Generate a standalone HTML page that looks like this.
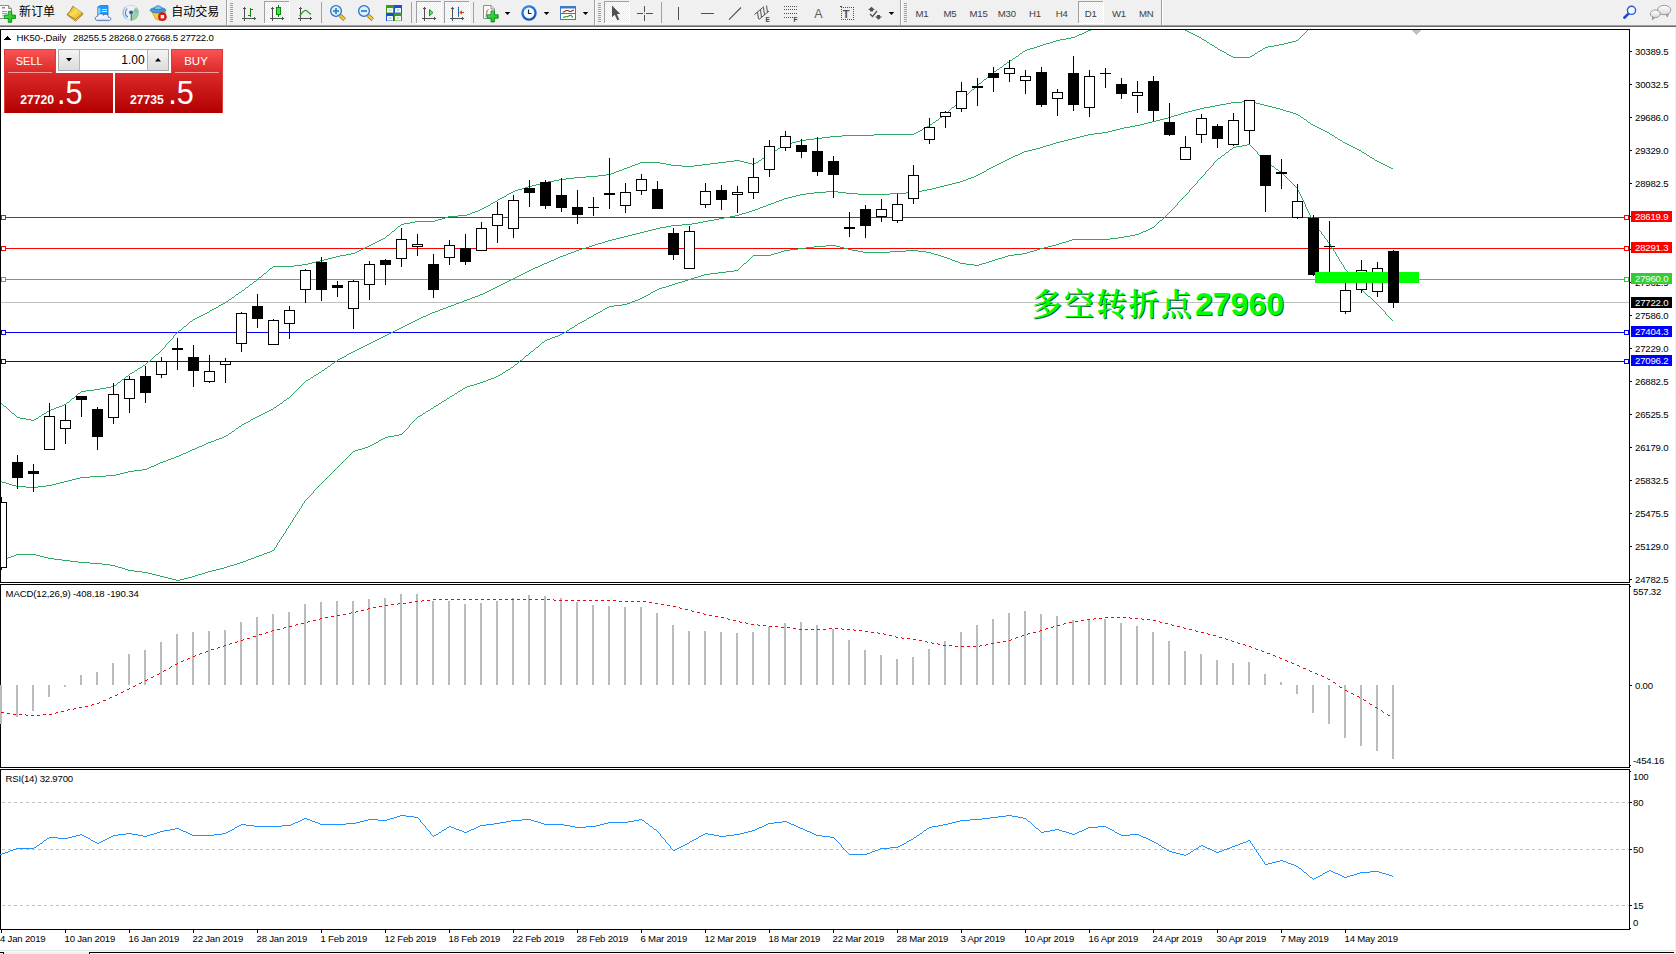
<!DOCTYPE html>
<html><head><meta charset="utf-8"><title>HK50-,Daily</title>
<style>html,body{margin:0;padding:0;background:#fff;}body{width:1676px;height:954px;overflow:hidden;position:relative;font-family:"Liberation Sans",sans-serif}svg text{shape-rendering:auto}</style></head>
<body>
<svg width="1676" height="954" viewBox="0 0 1676 954" shape-rendering="crispEdges" font-family='"Liberation Sans", sans-serif' style="position:absolute;left:0;top:0">
<defs>
<clipPath id="cm"><rect x="1" y="30" width="1628" height="552"/></clipPath>
<linearGradient id="gr" x1="0" y1="0" x2="0" y2="1"><stop offset="0" stop-color="#fa5252"/><stop offset="0.45" stop-color="#d62424"/><stop offset="1" stop-color="#b40000"/></linearGradient>
<linearGradient id="gbtn" x1="0" y1="0" x2="0" y2="1"><stop offset="0" stop-color="#f4f4f4"/><stop offset="1" stop-color="#dcdcdc"/></linearGradient>
</defs>
<rect x="0" y="0" width="1676" height="954" fill="#fff" />
<rect x="0" y="0" width="1676" height="25" fill="#f0f0f0" />
<rect x="0" y="25" width="1676" height="1" fill="#a0a0a0" />
<rect x="0" y="26" width="1676" height="1" fill="#696969" />
<rect x="1675" y="27" width="1" height="927" fill="#f0f0f0" />
<rect x="0" y="29" width="1630" height="1" fill="#000" />
<rect x="0" y="582" width="1630" height="1" fill="#000" />
<rect x="0" y="29" width="1" height="554" fill="#000" />
<rect x="1629" y="29" width="1" height="554" fill="#000" />
<rect x="0" y="584" width="1630" height="1" fill="#000" />
<rect x="0" y="767" width="1630" height="1" fill="#000" />
<rect x="0" y="584" width="1" height="184" fill="#000" />
<rect x="1629" y="584" width="1" height="184" fill="#000" />
<rect x="0" y="769" width="1630" height="1" fill="#000" />
<rect x="0" y="929" width="1630" height="1" fill="#000" />
<rect x="0" y="769" width="1" height="161" fill="#000" />
<rect x="1629" y="769" width="1" height="161" fill="#000" />
<g clip-path="url(#cm)">
<rect x="1" y="302" width="1628" height="1" fill="#c0c0c0" />
<rect x="6" y="217" width="1618" height="1" fill="#ff0000" />
<rect x="1.5" y="215.5" width="4" height="4" fill="#fff" stroke="#ff0000" stroke-width="1"/>
<rect x="1624.5" y="215.5" width="4" height="4" fill="#fff" stroke="#ff0000" stroke-width="1"/>
<rect x="6" y="248" width="1618" height="1" fill="#ff0000" />
<rect x="1.5" y="246.5" width="4" height="4" fill="#fff" stroke="#ff0000" stroke-width="1"/>
<rect x="1624.5" y="246.5" width="4" height="4" fill="#fff" stroke="#ff0000" stroke-width="1"/>
<rect x="6" y="279" width="1618" height="1" fill="#32cd32" />
<rect x="1.5" y="277.5" width="4" height="4" fill="#fff" stroke="#32cd32" stroke-width="1"/>
<rect x="1624.5" y="277.5" width="4" height="4" fill="#fff" stroke="#32cd32" stroke-width="1"/>
<rect x="6" y="332" width="1618" height="1" fill="#0000ff" />
<rect x="1.5" y="330.5" width="4" height="4" fill="#fff" stroke="#0000ff" stroke-width="1"/>
<rect x="1624.5" y="330.5" width="4" height="4" fill="#fff" stroke="#0000ff" stroke-width="1"/>
<rect x="6" y="361" width="1618" height="1" fill="#0000ff" />
<rect x="1.5" y="359.5" width="4" height="4" fill="#fff" stroke="#0000ff" stroke-width="1"/>
<rect x="1624.5" y="359.5" width="4" height="4" fill="#fff" stroke="#0000ff" stroke-width="1"/>
<path d="M1146 15.5h10M1135 16.5h11M1156 16.5h4M1130 17.5h5M1160 17.5h4M1124 18.5h6M1164 18.5h4M1120 19.5h4M1168 19.5h2M1118 20.5h2M1170 20.5h2M1115 21.5h3M1112 22.5h3M1173 22.5h2M1110 23.5h2M1107 24.5h3M1176 24.5h2M1104 25.5h3M1101 26.5h3M1098 27.5h3M1180 27.5h2M1094 28.5h4M1091 29.5h3M1183 29.5h2M1088 30.5h3M1185 30.5h2M1086 31.5h2M1187 31.5h2M1084 32.5h2M1189 32.5h2M1082 33.5h2M1191 33.5h2M1079 34.5h3M1193 34.5h2M1077 35.5h2M1195 35.5h2M1075 36.5h2M1197 36.5h2M1071 37.5h4M1199 37.5h2M1066 38.5h5M1060 39.5h6M1202 39.5h2M1056 40.5h4M1204 40.5h2M1296 40.5h2M1053 41.5h3M1292 41.5h4M1050 42.5h3M1207 42.5h2M1288 42.5h4M1046 43.5h4M1284 43.5h4M1043 44.5h3M1210 44.5h2M1279 44.5h5M1040 45.5h3M1212 45.5h2M1274 45.5h5M1037 46.5h3M1268 46.5h6M1034 47.5h3M1215 47.5h2M1265 47.5h3M1030 48.5h4M1263 48.5h2M1027 49.5h3M1218 49.5h2M1025 50.5h2M1220 50.5h2M1260 50.5h2M1023 51.5h2M1222 51.5h2M1258 51.5h2M1224 52.5h2M1020 53.5h2M1255 53.5h2M1227 54.5h2M1229 55.5h2M1252 55.5h2M1016 56.5h2M1231 56.5h2M1250 56.5h2M1233 57.5h17M1013 58.5h2M1010 60.5h2M1007 62.5h2M1004 64.5h2M1000 67.5h2M997 69.5h2M994 71.5h2M990 74.5h2M984 79.5h2M979 83.5h2M972 89.5h2M964 96.5h2M952 107.5h2M943 115.5h2M940 117.5h2M936 120.5h2M933 122.5h2M930 124.5h2M927 126.5h2M925 127.5h2M923 128.5h2M920 130.5h2M918 131.5h2M916 132.5h2M914 133.5h2M874 134.5h40M842 135.5h32M830 136.5h12M822 137.5h8M814 138.5h8M806 139.5h8M800 140.5h6M796 141.5h4M792 142.5h4M788 143.5h4M785 144.5h3M783 145.5h2M780 147.5h2M778 148.5h2M775 150.5h2M772 152.5h2M770 153.5h2M767 155.5h2M764 157.5h2M762 158.5h2M734 160.5h6M759 160.5h2M726 161.5h8M740 161.5h4M640 162.5h20M718 162.5h8M744 162.5h4M756 162.5h2M638 163.5h2M660 163.5h6M710 163.5h8M748 163.5h4M754 163.5h2M635 164.5h3M666 164.5h5M702 164.5h8M752 164.5h2M632 165.5h3M671 165.5h11M694 165.5h8M630 166.5h2M682 166.5h12M627 167.5h3M624 168.5h3M622 169.5h2M619 170.5h3M616 171.5h3M614 172.5h2M611 173.5h3M606 174.5h5M598 175.5h8M586 176.5h12M574 177.5h12M566 178.5h8M559 179.5h7M554 180.5h5M548 181.5h6M544 182.5h4M540 183.5h4M536 184.5h4M532 185.5h4M528 186.5h4M525 187.5h3M522 188.5h3M518 189.5h4M515 190.5h3M513 191.5h2M511 192.5h2M509 193.5h2M507 194.5h2M504 196.5h2M502 197.5h2M500 198.5h2M498 199.5h2M495 201.5h2M493 202.5h2M491 203.5h2M488 205.5h2M486 206.5h2M484 207.5h2M482 208.5h2M480 209.5h2M478 210.5h2M475 211.5h3M472 212.5h3M470 213.5h2M467 214.5h3M458 215.5h9M448 216.5h10M445 217.5h3M442 218.5h3M438 219.5h4M435 220.5h3M415 221.5h20M410 222.5h5M404 223.5h6M401 224.5h3M398 226.5h2M392 231.5h2M387 235.5h2M383 238.5h2M381 239.5h2M379 240.5h2M377 241.5h2M375 242.5h2M373 243.5h2M371 244.5h2M369 245.5h2M367 246.5h2M365 247.5h2M363 248.5h2M361 249.5h2M359 250.5h2M357 251.5h2M355 252.5h2M351 253.5h4M346 254.5h5M340 255.5h6M336 256.5h4M332 257.5h4M328 258.5h4M324 259.5h4M320 260.5h4M316 261.5h4M312 262.5h4M308 263.5h4M302 264.5h6M294 265.5h8M273 266.5h21M270 268.5h2M264 273.5h2M259 277.5h2M254 281.5h2M250 284.5h2M246 287.5h2M242 290.5h2M239 292.5h2M236 294.5h2M232 297.5h2M229 299.5h2M226 301.5h2M223 303.5h2M221 304.5h2M219 305.5h2M216 307.5h2M214 308.5h2M212 309.5h2M210 310.5h2M207 312.5h2M205 313.5h2M203 314.5h2M201 315.5h2M199 316.5h2M197 317.5h2M195 318.5h2M193 319.5h2M190 321.5h2M184 326.5h2M179 330.5h2M156 354.5h2M148 361.5h2M143 365.5h2M140 367.5h2M138 368.5h2M135 370.5h2M132 372.5h2M130 373.5h2M126 376.5h2M122 379.5h2M118 382.5h2M114 385.5h2M111 386.5h3M106 387.5h5M100 388.5h6M94 389.5h6M86 390.5h8M81 391.5h5M78 393.5h2M72 398.5h2M67 402.5h2M64 404.5h2M62 405.5h2M4 406.5h2M59 406.5h3M56 407.5h3M54 408.5h2M51 409.5h3M49 410.5h2M47 411.5h2M12 413.5h2M44 413.5h2M42 414.5h2M39 416.5h2M17 417.5h3M20 418.5h6M36 418.5h2M26 419.5h5M34 419.5h2M31 420.5h3M0.5 402v1M1.5 403v1M2.5 404v1M3.5 405v1M6.5 407v1M7.5 408v1M8.5 409v1M9.5 410v1M10.5 411v1M11.5 412v1M14.5 414v1M15.5 415v1M16.5 416v1M38.5 417v1M41.5 415v1M46.5 412v1M66.5 403v1M69.5 401v1M70.5 400v1M71.5 399v1M74.5 397v1M75.5 396v1M76.5 395v1M77.5 394v1M80.5 392v1M116.5 384v1M117.5 383v1M120.5 381v1M121.5 380v1M124.5 378v1M125.5 377v1M128.5 375v1M129.5 374v1M134.5 371v1M137.5 369v1M142.5 366v1M145.5 364v1M146.5 363v1M147.5 362v1M150.5 360v1M151.5 359v1M152.5 358v1M153.5 357v1M154.5 356v1M155.5 355v1M158.5 353v1M159.5 352v1M160.5 351v1M161.5 350v1M162.5 349v1M163.5 348v1M164.5 347v1M165.5 345v2M166.5 344v1M167.5 343v1M168.5 342v1M169.5 341v1M170.5 340v1M171.5 339v1M172.5 338v1M173.5 336v2M174.5 335v1M175.5 334v1M176.5 333v1M177.5 332v1M178.5 331v1M181.5 329v1M182.5 328v1M183.5 327v1M186.5 325v1M187.5 324v1M188.5 323v1M189.5 322v1M192.5 320v1M209.5 311v1M218.5 306v1M225.5 302v1M228.5 300v1M231.5 298v1M234.5 296v1M235.5 295v1M238.5 293v1M241.5 291v1M244.5 289v1M245.5 288v1M248.5 286v1M249.5 285v1M252.5 283v1M253.5 282v1M256.5 280v1M257.5 279v1M258.5 278v1M261.5 276v1M262.5 275v1M263.5 274v1M266.5 272v1M267.5 271v1M268.5 270v1M269.5 269v1M272.5 267v1M385.5 237v1M386.5 236v1M389.5 234v1M390.5 233v1M391.5 232v1M394.5 230v1M395.5 229v1M396.5 228v1M397.5 227v1M400.5 225v1M490.5 204v1M497.5 200v1M506.5 195v1M758.5 161v1M761.5 159v1M766.5 156v1M769.5 154v1M774.5 151v1M777.5 149v1M782.5 146v1M922.5 129v1M929.5 125v1M932.5 123v1M935.5 121v1M938.5 119v1M939.5 118v1M942.5 116v1M945.5 114v1M946.5 113v1M947.5 112v1M948.5 111v1M949.5 110v1M950.5 109v1M951.5 108v1M954.5 106v1M955.5 105v1M956.5 104v1M957.5 103v1M958.5 102v1M959.5 101v1M960.5 100v1M961.5 99v1M962.5 98v1M963.5 97v1M966.5 95v1M967.5 94v1M968.5 93v1M969.5 92v1M970.5 91v1M971.5 90v1M974.5 88v1M975.5 87v1M976.5 86v1M977.5 85v1M978.5 84v1M981.5 82v1M982.5 81v1M983.5 80v1M986.5 78v1M987.5 77v1M988.5 76v1M989.5 75v1M992.5 73v1M993.5 72v1M996.5 70v1M999.5 68v1M1002.5 66v1M1003.5 65v1M1006.5 63v1M1009.5 61v1M1012.5 59v1M1015.5 57v1M1018.5 55v1M1019.5 54v1M1022.5 52v1M1172.5 21v1M1175.5 23v1M1178.5 25v1M1179.5 26v1M1182.5 28v1M1201.5 38v1M1206.5 41v1M1209.5 43v1M1214.5 46v1M1217.5 48v1M1226.5 53v1M1254.5 54v1M1257.5 52v1M1262.5 49v1M1298.5 39v1M1299.5 38v1M1300.5 37v1M1301.5 36v1M1302.5 35v1M1303.5 34v1M1304.5 33v1M1305.5 32v1M1306.5 31v1M1307.5 30v1M1308.5 29v1M1309.5 28v1M1310.5 27v1M1311.5 26v1M1312.5 25v1" fill="none" stroke="#2eaa64" stroke-width="1" />
<path d="M1242 101.5h10M1231 102.5h11M1252 102.5h4M1226 103.5h5M1256 103.5h4M1220 104.5h6M1260 104.5h4M1215 105.5h5M1264 105.5h4M1210 106.5h5M1268 106.5h4M1204 107.5h6M1272 107.5h4M1200 108.5h4M1276 108.5h4M1196 109.5h4M1280 109.5h3M1192 110.5h4M1283 110.5h3M1188 111.5h4M1286 111.5h4M1184 112.5h4M1290 112.5h3M1181 113.5h3M1293 113.5h3M1178 114.5h3M1296 114.5h2M1174 115.5h4M1298 115.5h2M1171 116.5h3M1168 117.5h3M1301 117.5h2M1164 118.5h4M1160 119.5h4M1304 119.5h2M1156 120.5h4M1152 121.5h4M1148 122.5h4M1308 122.5h2M1144 123.5h4M1140 124.5h4M1311 124.5h2M1135 125.5h5M1313 125.5h2M1130 126.5h5M1315 126.5h2M1124 127.5h6M1317 127.5h2M1120 128.5h4M1319 128.5h2M1116 129.5h4M1321 129.5h2M1112 130.5h4M1323 130.5h2M1108 131.5h4M1325 131.5h2M1102 132.5h6M1327 132.5h2M1094 133.5h8M1088 134.5h6M1330 134.5h2M1084 135.5h4M1332 135.5h2M1080 136.5h4M1076 137.5h4M1335 137.5h2M1072 138.5h4M1068 139.5h4M1338 139.5h2M1064 140.5h4M1340 140.5h2M1060 141.5h4M1056 142.5h4M1343 142.5h2M1053 143.5h3M1345 143.5h2M1050 144.5h3M1347 144.5h2M1046 145.5h4M1349 145.5h2M1043 146.5h3M1351 146.5h2M1040 147.5h3M1353 147.5h2M1036 148.5h4M1355 148.5h2M1032 149.5h4M1357 149.5h2M1028 150.5h4M1359 150.5h2M1024 151.5h4M1022 152.5h2M1362 152.5h2M1020 153.5h2M1364 153.5h2M1018 154.5h2M1015 155.5h3M1367 155.5h2M1013 156.5h2M1011 157.5h2M1370 157.5h2M1009 158.5h2M1372 158.5h2M1007 159.5h2M1005 160.5h2M1375 160.5h2M1003 161.5h2M1377 161.5h2M1001 162.5h2M1379 162.5h2M999 163.5h2M1381 163.5h2M997 164.5h2M1383 164.5h2M995 165.5h2M1385 165.5h2M993 166.5h2M1387 166.5h2M991 167.5h2M1389 167.5h2M989 168.5h2M1391 168.5h2M987 169.5h2M984 171.5h2M982 172.5h2M980 173.5h2M978 174.5h2M976 175.5h2M974 176.5h2M971 177.5h3M968 178.5h3M966 179.5h2M963 180.5h3M960 181.5h3M956 182.5h4M952 183.5h4M948 184.5h4M944 185.5h4M940 186.5h4M936 187.5h4M932 188.5h4M927 189.5h5M922 190.5h5M826 191.5h12M916 191.5h6M814 192.5h12M838 192.5h8M906 192.5h10M806 193.5h8M846 193.5h12M890 193.5h16M800 194.5h6M858 194.5h32M796 195.5h4M792 196.5h4M788 197.5h4M784 198.5h4M782 199.5h2M779 200.5h3M776 201.5h3M774 202.5h2M771 203.5h3M768 204.5h3M766 205.5h2M763 206.5h3M760 207.5h3M758 208.5h2M755 209.5h3M752 210.5h3M749 211.5h3M746 212.5h3M742 213.5h4M739 214.5h3M735 215.5h4M730 216.5h5M724 217.5h6M719 218.5h5M714 219.5h5M708 220.5h6M703 221.5h5M698 222.5h5M692 223.5h6M682 224.5h10M671 225.5h11M666 226.5h5M660 227.5h6M656 228.5h4M652 229.5h4M648 230.5h4M644 231.5h4M640 232.5h4M636 233.5h4M632 234.5h4M628 235.5h4M624 236.5h4M620 237.5h4M616 238.5h4M612 239.5h4M608 240.5h4M605 241.5h3M602 242.5h3M598 243.5h4M595 244.5h3M592 245.5h3M589 246.5h3M586 247.5h3M582 248.5h4M579 249.5h3M576 250.5h3M574 251.5h2M571 252.5h3M568 253.5h3M566 254.5h2M563 255.5h3M560 256.5h3M558 257.5h2M556 258.5h2M554 259.5h2M551 260.5h3M549 261.5h2M547 262.5h2M544 263.5h3M542 264.5h2M540 265.5h2M538 266.5h2M535 267.5h3M533 268.5h2M531 269.5h2M529 270.5h2M527 271.5h2M525 272.5h2M523 273.5h2M521 274.5h2M519 275.5h2M517 276.5h2M515 277.5h2M513 278.5h2M511 279.5h2M509 280.5h2M507 281.5h2M505 282.5h2M503 283.5h2M501 284.5h2M499 285.5h2M497 286.5h2M495 287.5h2M493 288.5h2M491 289.5h2M489 290.5h2M487 291.5h2M485 292.5h2M483 293.5h2M480 294.5h3M478 295.5h2M475 296.5h3M472 297.5h3M470 298.5h2M467 299.5h3M464 300.5h3M462 301.5h2M459 302.5h3M456 303.5h3M454 304.5h2M451 305.5h3M448 306.5h3M446 307.5h2M443 308.5h3M440 309.5h3M438 310.5h2M435 311.5h3M432 312.5h3M430 313.5h2M428 314.5h2M426 315.5h2M423 316.5h3M421 317.5h2M419 318.5h2M417 319.5h2M415 320.5h2M413 321.5h2M411 322.5h2M409 323.5h2M407 324.5h2M405 325.5h2M403 326.5h2M401 327.5h2M399 328.5h2M397 329.5h2M395 330.5h2M393 331.5h2M391 332.5h2M389 333.5h2M387 334.5h2M385 335.5h2M383 336.5h2M381 337.5h2M379 338.5h2M377 339.5h2M375 340.5h2M373 341.5h2M371 342.5h2M369 343.5h2M367 344.5h2M365 345.5h2M363 346.5h2M361 347.5h2M359 348.5h2M357 349.5h2M355 350.5h2M353 351.5h2M351 352.5h2M349 353.5h2M347 354.5h2M344 356.5h2M342 357.5h2M340 358.5h2M338 359.5h2M335 361.5h2M332 363.5h2M328 366.5h2M325 368.5h2M322 370.5h2M319 372.5h2M316 374.5h2M314 375.5h2M311 377.5h2M308 379.5h2M306 380.5h2M287 398.5h2M284 400.5h2M280 403.5h2M277 405.5h2M274 407.5h2M271 409.5h2M269 410.5h2M267 411.5h2M265 412.5h2M263 413.5h2M261 414.5h2M259 415.5h2M257 416.5h2M255 417.5h2M253 418.5h2M251 419.5h2M248 421.5h2M246 422.5h2M244 423.5h2M242 424.5h2M239 426.5h2M236 428.5h2M232 431.5h2M229 433.5h2M226 435.5h2M224 436.5h2M222 437.5h2M219 438.5h3M216 439.5h3M214 440.5h2M211 441.5h3M208 442.5h3M206 443.5h2M204 444.5h2M202 445.5h2M199 446.5h3M197 447.5h2M195 448.5h2M192 449.5h3M190 450.5h2M188 451.5h2M186 452.5h2M183 453.5h3M181 454.5h2M179 455.5h2M176 456.5h3M174 457.5h2M171 458.5h3M168 459.5h3M166 460.5h2M163 461.5h3M160 462.5h3M158 463.5h2M156 464.5h2M154 465.5h2M151 466.5h3M149 467.5h2M147 468.5h2M142 469.5h5M134 470.5h8M128 471.5h6M124 472.5h4M120 473.5h4M116 474.5h4M106 475.5h10M90 476.5h16M80 477.5h10M76 478.5h4M72 479.5h4M68 480.5h4M0 481.5h2M64 481.5h4M2 482.5h4M60 482.5h4M6 483.5h3M56 483.5h4M9 484.5h3M52 484.5h4M12 485.5h4M46 485.5h6M16 486.5h10M38 486.5h8M26 487.5h12M228.5 434v1M231.5 432v1M234.5 430v1M235.5 429v1M238.5 427v1M241.5 425v1M250.5 420v1M273.5 408v1M276.5 406v1M279.5 404v1M282.5 402v1M283.5 401v1M286.5 399v1M289.5 397v1M290.5 396v1M291.5 395v1M292.5 394v1M293.5 393v1M294.5 392v1M295.5 391v1M296.5 390v1M297.5 389v1M298.5 388v1M299.5 387v1M300.5 386v1M301.5 385v1M302.5 384v1M303.5 383v1M304.5 382v1M305.5 381v1M310.5 378v1M313.5 376v1M318.5 373v1M321.5 371v1M324.5 369v1M327.5 367v1M330.5 365v1M331.5 364v1M334.5 362v1M337.5 360v1M346.5 355v1M986.5 170v1M1300.5 116v1M1303.5 118v1M1306.5 120v1M1307.5 121v1M1310.5 123v1M1329.5 133v1M1334.5 136v1M1337.5 138v1M1342.5 141v1M1361.5 151v1M1366.5 154v1M1369.5 156v1M1374.5 159v1" fill="none" stroke="#2eaa64" stroke-width="1" />
<path d="M1247 144.5h3M1242 145.5h5M1236 146.5h6M1233 147.5h3M1230 149.5h2M1226 152.5h2M1222 155.5h2M1218 158.5h2M1266 162.5h2M1269 164.5h2M1272 166.5h2M1276 169.5h2M1279 171.5h2M1160 220.5h2M1152 227.5h2M1150 228.5h2M1148 229.5h2M1146 230.5h2M1143 231.5h3M1141 232.5h2M1139 233.5h2M1135 234.5h4M1130 235.5h5M1124 236.5h6M1118 237.5h6M1110 238.5h8M1072 239.5h38M1069 240.5h3M1066 241.5h3M1062 242.5h4M1059 243.5h3M1056 244.5h3M826 245.5h10M1052 245.5h4M814 246.5h12M836 246.5h4M1048 246.5h4M806 247.5h8M840 247.5h4M1044 247.5h4M798 248.5h8M844 248.5h4M1040 248.5h4M790 249.5h8M848 249.5h4M1037 249.5h3M784 250.5h6M852 250.5h6M906 250.5h12M1034 250.5h3M781 251.5h3M858 251.5h5M890 251.5h16M918 251.5h8M1030 251.5h4M778 252.5h3M863 252.5h27M926 252.5h5M1027 252.5h3M774 253.5h4M931 253.5h3M1022 253.5h5M771 254.5h3M934 254.5h4M1014 254.5h8M753 255.5h18M938 255.5h3M1008 255.5h6M941 256.5h3M1005 256.5h3M944 257.5h3M1002 257.5h3M947 258.5h3M998 258.5h4M950 259.5h2M995 259.5h3M952 260.5h3M992 260.5h3M955 261.5h3M989 261.5h3M958 262.5h2M986 262.5h3M744 263.5h2M960 263.5h6M982 263.5h4M966 264.5h8M979 264.5h3M974 265.5h5M734 270.5h4M726 271.5h8M718 272.5h8M710 273.5h8M704 274.5h6M701 275.5h3M698 276.5h3M694 277.5h4M691 278.5h3M688 279.5h3M685 280.5h3M682 281.5h3M678 282.5h4M675 283.5h3M672 284.5h3M669 285.5h3M666 286.5h3M662 287.5h4M659 288.5h3M657 289.5h2M655 290.5h2M653 291.5h2M651 292.5h2M648 294.5h2M646 295.5h2M644 296.5h2M1368 296.5h2M642 297.5h2M640 298.5h2M638 299.5h2M635 300.5h3M632 301.5h3M630 302.5h2M627 303.5h3M622 304.5h5M614 305.5h8M609 306.5h5M607 307.5h2M605 308.5h2M603 309.5h2M600 311.5h2M598 312.5h2M596 313.5h2M594 314.5h2M591 316.5h2M589 317.5h2M587 318.5h2M584 320.5h2M582 321.5h2M580 322.5h2M578 323.5h2M575 325.5h2M572 327.5h2M570 328.5h2M567 330.5h2M564 332.5h2M562 333.5h2M560 334.5h2M558 335.5h2M555 336.5h3M552 337.5h3M550 338.5h2M547 339.5h3M545 340.5h2M542 342.5h2M536 347.5h2M531 351.5h2M526 355.5h2M520 360.5h2M515 364.5h2M511 367.5h2M508 369.5h2M506 370.5h2M503 372.5h2M500 374.5h2M498 375.5h2M496 376.5h2M494 377.5h2M491 378.5h3M488 379.5h3M486 380.5h2M483 381.5h3M480 382.5h3M477 383.5h3M474 384.5h3M470 385.5h4M467 386.5h3M465 387.5h2M463 388.5h2M460 390.5h2M458 391.5h2M455 393.5h2M452 395.5h2M450 396.5h2M447 398.5h2M444 400.5h2M442 401.5h2M439 403.5h2M436 405.5h2M434 406.5h2M431 408.5h2M428 410.5h2M426 411.5h2M423 413.5h2M420 415.5h2M418 416.5h2M399 434.5h3M394 435.5h5M388 436.5h6M385 437.5h3M383 438.5h2M381 439.5h2M379 440.5h2M376 442.5h2M374 443.5h2M372 444.5h2M370 445.5h2M368 446.5h2M365 447.5h3M362 448.5h3M358 449.5h4M355 450.5h3M353 451.5h2M272 550.5h2M270 551.5h2M267 552.5h3M264 553.5h3M16 554.5h20M262 554.5h2M14 555.5h2M36 555.5h4M259 555.5h3M11 556.5h3M40 556.5h4M256 556.5h3M8 557.5h3M44 557.5h4M254 557.5h2M6 558.5h2M48 558.5h6M251 558.5h3M3 559.5h3M54 559.5h8M248 559.5h3M1 560.5h2M62 560.5h8M246 560.5h2M70 561.5h8M243 561.5h3M78 562.5h12M240 562.5h3M90 563.5h12M237 563.5h3M102 564.5h8M234 564.5h3M110 565.5h5M230 565.5h4M115 566.5h3M227 566.5h3M118 567.5h4M224 567.5h3M122 568.5h3M220 568.5h4M125 569.5h3M216 569.5h4M128 570.5h6M212 570.5h4M134 571.5h8M208 571.5h4M142 572.5h6M205 572.5h3M148 573.5h4M202 573.5h3M152 574.5h4M198 574.5h4M156 575.5h4M195 575.5h3M160 576.5h4M192 576.5h3M164 577.5h4M188 577.5h4M168 578.5h4M184 578.5h4M172 579.5h4M180 579.5h4M176 580.5h4M274.5 548v2M275.5 547v1M276.5 545v2M277.5 543v2M278.5 542v1M279.5 540v2M280.5 539v1M281.5 537v2M282.5 536v1M283.5 534v2M284.5 533v1M285.5 531v2M286.5 529v2M287.5 528v1M288.5 526v2M289.5 525v1M290.5 523v2M291.5 522v1M292.5 520v2M293.5 518v2M294.5 517v1M295.5 515v2M296.5 514v1M297.5 512v2M298.5 511v1M299.5 509v2M300.5 508v1M301.5 506v2M302.5 504v2M303.5 503v1M304.5 501v2M305.5 500v1M306.5 499v1M307.5 498v1M308.5 497v1M309.5 496v1M310.5 495v1M311.5 494v1M312.5 493v1M313.5 491v2M314.5 490v1M315.5 489v1M316.5 488v1M317.5 487v1M318.5 486v1M319.5 485v1M320.5 484v1M321.5 483v1M322.5 482v1M323.5 481v1M324.5 480v1M325.5 479v1M326.5 478v1M327.5 477v1M328.5 476v1M329.5 475v1M330.5 474v1M331.5 473v1M332.5 472v1M333.5 471v1M334.5 470v1M335.5 469v1M336.5 468v1M337.5 467v1M338.5 466v1M339.5 465v1M340.5 464v1M341.5 463v1M342.5 462v1M343.5 461v1M344.5 460v1M345.5 459v1M346.5 458v1M347.5 457v1M348.5 456v1M349.5 455v1M350.5 454v1M351.5 453v1M352.5 452v1M378.5 441v1M402.5 433v1M403.5 432v1M404.5 431v1M405.5 430v1M406.5 429v1M407.5 428v1M408.5 427v1M409.5 425v2M410.5 424v1M411.5 423v1M412.5 422v1M413.5 421v1M414.5 420v1M415.5 419v1M416.5 418v1M417.5 417v1M422.5 414v1M425.5 412v1M430.5 409v1M433.5 407v1M438.5 404v1M441.5 402v1M446.5 399v1M449.5 397v1M454.5 394v1M457.5 392v1M462.5 389v1M502.5 373v1M505.5 371v1M510.5 368v1M513.5 366v1M514.5 365v1M517.5 363v1M518.5 362v1M519.5 361v1M522.5 359v1M523.5 358v1M524.5 357v1M525.5 356v1M528.5 354v1M529.5 353v1M530.5 352v1M533.5 350v1M534.5 349v1M535.5 348v1M538.5 346v1M539.5 345v1M540.5 344v1M541.5 343v1M544.5 341v1M566.5 331v1M569.5 329v1M574.5 326v1M577.5 324v1M586.5 319v1M593.5 315v1M602.5 310v1M650.5 293v1M738.5 269v1M739.5 268v1M740.5 267v1M741.5 266v1M742.5 265v1M743.5 264v1M746.5 262v1M747.5 261v1M748.5 260v1M749.5 259v1M750.5 258v1M751.5 257v1M752.5 256v1M1154.5 226v1M1155.5 225v1M1156.5 224v1M1157.5 223v1M1158.5 222v1M1159.5 221v1M1162.5 219v1M1163.5 218v1M1164.5 217v1M1165.5 216v1M1166.5 215v1M1167.5 214v1M1168.5 213v1M1169.5 212v1M1170.5 211v1M1171.5 210v1M1172.5 209v1M1173.5 208v1M1174.5 207v1M1175.5 206v1M1176.5 205v1M1177.5 203v2M1178.5 202v1M1179.5 201v1M1180.5 200v1M1181.5 199v1M1182.5 198v1M1183.5 197v1M1184.5 196v1M1185.5 195v1M1186.5 194v1M1187.5 193v1M1188.5 192v1M1189.5 190v2M1190.5 189v1M1191.5 188v1M1192.5 187v1M1193.5 186v1M1194.5 185v1M1195.5 184v1M1196.5 183v1M1197.5 181v2M1198.5 180v1M1199.5 179v1M1200.5 178v1M1201.5 177v1M1202.5 176v1M1203.5 175v1M1204.5 174v1M1205.5 172v2M1206.5 171v1M1207.5 170v1M1208.5 169v1M1209.5 168v1M1210.5 167v1M1211.5 166v1M1212.5 165v1M1213.5 163v2M1214.5 162v1M1215.5 161v1M1216.5 160v1M1217.5 159v1M1220.5 157v1M1221.5 156v1M1224.5 154v1M1225.5 153v1M1228.5 151v1M1229.5 150v1M1232.5 148v1M1250.5 145v1M1251.5 146v1M1252.5 147v1M1253.5 148v1M1254.5 149v1M1255.5 150v1M1256.5 151v1M1257.5 152v2M1258.5 154v1M1259.5 155v1M1260.5 156v1M1261.5 157v1M1262.5 158v1M1263.5 159v1M1264.5 160v1M1265.5 161v1M1268.5 163v1M1271.5 165v1M1274.5 167v1M1275.5 168v1M1278.5 170v1M1281.5 172v1M1282.5 173v1M1283.5 174v1M1284.5 175v1M1285.5 176v1M1286.5 177v1M1287.5 178v1M1288.5 179v1M1289.5 180v1M1290.5 181v1M1291.5 182v1M1292.5 183v1M1293.5 184v1M1294.5 185v1M1295.5 186v1M1296.5 187v1M1297.5 188v2M1298.5 190v2M1299.5 192v2M1300.5 194v2M1301.5 196v2M1302.5 198v2M1303.5 200v2M1304.5 202v2M1305.5 204v3M1306.5 207v2M1307.5 209v2M1308.5 211v2M1309.5 213v2M1310.5 215v2M1311.5 217v2M1312.5 219v2M1313.5 221v2M1314.5 223v1M1315.5 224v2M1316.5 226v1M1317.5 227v1M1318.5 228v2M1319.5 230v1M1320.5 231v1M1321.5 232v2M1322.5 234v1M1323.5 235v1M1324.5 236v2M1325.5 238v1M1326.5 239v1M1327.5 240v2M1328.5 242v1M1329.5 243v1M1330.5 244v2M1331.5 246v2M1332.5 248v1M1333.5 249v2M1334.5 251v1M1335.5 252v2M1336.5 254v2M1337.5 256v1M1338.5 257v2M1339.5 259v2M1340.5 261v1M1341.5 262v2M1342.5 264v1M1343.5 265v2M1344.5 267v2M1345.5 269v1M1346.5 270v1M1347.5 271v2M1348.5 273v1M1349.5 274v1M1350.5 275v1M1351.5 276v2M1352.5 278v1M1353.5 279v1M1354.5 280v1M1355.5 281v2M1356.5 283v1M1357.5 284v1M1358.5 285v1M1359.5 286v2M1360.5 288v1M1361.5 289v1M1362.5 290v1M1363.5 291v1M1364.5 292v1M1365.5 293v1M1366.5 294v1M1367.5 295v1M1370.5 297v1M1371.5 298v1M1372.5 299v1M1373.5 300v1M1374.5 301v1M1375.5 302v1M1376.5 303v1M1377.5 304v1M1378.5 305v1M1379.5 306v1M1380.5 307v1M1381.5 308v1M1382.5 309v1M1383.5 310v1M1384.5 311v1M1385.5 312v2M1386.5 314v1M1387.5 315v1M1388.5 316v1M1389.5 317v1M1390.5 318v1M1391.5 319v1M1392.5 320v1" fill="none" stroke="#2eaa64" stroke-width="1" />
<rect x="1" y="497" width="1" height="73" fill="#000" />
<rect x="-4" y="502" width="11" height="66" fill="#000" />
<rect x="-3" y="503" width="9" height="64" fill="#fff" />
<rect x="17" y="455" width="1" height="34" fill="#000" />
<rect x="12" y="462" width="11" height="16" fill="#000" />
<rect x="33" y="464" width="1" height="28" fill="#000" />
<rect x="28" y="471" width="11" height="3" fill="#000" />
<rect x="49" y="403" width="1" height="47" fill="#000" />
<rect x="44" y="416" width="11" height="34" fill="#000" />
<rect x="45" y="417" width="9" height="32" fill="#fff" />
<rect x="65" y="405" width="1" height="39" fill="#000" />
<rect x="60" y="420" width="11" height="9" fill="#000" />
<rect x="61" y="421" width="9" height="7" fill="#fff" />
<rect x="81" y="396" width="1" height="21" fill="#000" />
<rect x="76" y="396" width="11" height="4" fill="#000" />
<rect x="97" y="407" width="1" height="43" fill="#000" />
<rect x="92" y="409" width="11" height="28" fill="#000" />
<rect x="113" y="383" width="1" height="41" fill="#000" />
<rect x="108" y="394" width="11" height="24" fill="#000" />
<rect x="109" y="395" width="9" height="22" fill="#fff" />
<rect x="129" y="376" width="1" height="37" fill="#000" />
<rect x="124" y="379" width="11" height="20" fill="#000" />
<rect x="125" y="380" width="9" height="18" fill="#fff" />
<rect x="145" y="366" width="1" height="37" fill="#000" />
<rect x="140" y="376" width="11" height="17" fill="#000" />
<rect x="161" y="357" width="1" height="21" fill="#000" />
<rect x="156" y="361" width="11" height="14" fill="#000" />
<rect x="157" y="362" width="9" height="12" fill="#fff" />
<rect x="177" y="338" width="1" height="32" fill="#000" />
<rect x="172" y="348" width="11" height="2" fill="#000" />
<rect x="193" y="345" width="1" height="42" fill="#000" />
<rect x="188" y="357" width="11" height="14" fill="#000" />
<rect x="209" y="355" width="1" height="28" fill="#000" />
<rect x="204" y="371" width="11" height="11" fill="#000" />
<rect x="205" y="372" width="9" height="9" fill="#fff" />
<rect x="225" y="358" width="1" height="25" fill="#000" />
<rect x="220" y="361" width="11" height="4" fill="#000" />
<rect x="221" y="362" width="9" height="2" fill="#fff" />
<rect x="241" y="312" width="1" height="40" fill="#000" />
<rect x="236" y="313" width="11" height="31" fill="#000" />
<rect x="237" y="314" width="9" height="29" fill="#fff" />
<rect x="257" y="294" width="1" height="34" fill="#000" />
<rect x="252" y="306" width="11" height="13" fill="#000" />
<rect x="273" y="319" width="1" height="26" fill="#000" />
<rect x="268" y="320" width="11" height="25" fill="#000" />
<rect x="269" y="321" width="9" height="23" fill="#fff" />
<rect x="289" y="306" width="1" height="33" fill="#000" />
<rect x="284" y="310" width="11" height="14" fill="#000" />
<rect x="285" y="311" width="9" height="12" fill="#fff" />
<rect x="305" y="269" width="1" height="34" fill="#000" />
<rect x="300" y="270" width="11" height="20" fill="#000" />
<rect x="301" y="271" width="9" height="18" fill="#fff" />
<rect x="321" y="257" width="1" height="44" fill="#000" />
<rect x="316" y="262" width="11" height="28" fill="#000" />
<rect x="337" y="281" width="1" height="16" fill="#000" />
<rect x="332" y="285" width="11" height="3" fill="#000" />
<rect x="353" y="280" width="1" height="49" fill="#000" />
<rect x="348" y="281" width="11" height="28" fill="#000" />
<rect x="349" y="282" width="9" height="26" fill="#fff" />
<rect x="369" y="261" width="1" height="39" fill="#000" />
<rect x="364" y="264" width="11" height="21" fill="#000" />
<rect x="365" y="265" width="9" height="19" fill="#fff" />
<rect x="385" y="259" width="1" height="26" fill="#000" />
<rect x="380" y="260" width="11" height="5" fill="#000" />
<rect x="401" y="228" width="1" height="39" fill="#000" />
<rect x="396" y="239" width="11" height="20" fill="#000" />
<rect x="397" y="240" width="9" height="18" fill="#fff" />
<rect x="417" y="234" width="1" height="22" fill="#000" />
<rect x="412" y="244" width="11" height="3" fill="#000" />
<rect x="413" y="245" width="9" height="1" fill="#fff" />
<rect x="433" y="254" width="1" height="44" fill="#000" />
<rect x="428" y="264" width="11" height="26" fill="#000" />
<rect x="449" y="240" width="1" height="25" fill="#000" />
<rect x="444" y="245" width="11" height="13" fill="#000" />
<rect x="445" y="246" width="9" height="11" fill="#fff" />
<rect x="465" y="234" width="1" height="31" fill="#000" />
<rect x="460" y="248" width="11" height="14" fill="#000" />
<rect x="481" y="222" width="1" height="29" fill="#000" />
<rect x="476" y="228" width="11" height="23" fill="#000" />
<rect x="477" y="229" width="9" height="21" fill="#fff" />
<rect x="497" y="202" width="1" height="41" fill="#000" />
<rect x="492" y="214" width="11" height="12" fill="#000" />
<rect x="493" y="215" width="9" height="10" fill="#fff" />
<rect x="513" y="195" width="1" height="43" fill="#000" />
<rect x="508" y="200" width="11" height="29" fill="#000" />
<rect x="509" y="201" width="9" height="27" fill="#fff" />
<rect x="529" y="180" width="1" height="27" fill="#000" />
<rect x="524" y="188" width="11" height="5" fill="#000" />
<rect x="545" y="180" width="1" height="29" fill="#000" />
<rect x="540" y="182" width="11" height="24" fill="#000" />
<rect x="561" y="178" width="1" height="34" fill="#000" />
<rect x="556" y="195" width="11" height="13" fill="#000" />
<rect x="577" y="190" width="1" height="34" fill="#000" />
<rect x="572" y="207" width="11" height="8" fill="#000" />
<rect x="593" y="197" width="1" height="19" fill="#000" />
<rect x="588" y="207" width="11" height="1" fill="#000" />
<rect x="609" y="158" width="1" height="51" fill="#000" />
<rect x="604" y="193" width="11" height="2" fill="#000" />
<rect x="625" y="183" width="1" height="30" fill="#000" />
<rect x="620" y="192" width="11" height="14" fill="#000" />
<rect x="621" y="193" width="9" height="12" fill="#fff" />
<rect x="641" y="174" width="1" height="21" fill="#000" />
<rect x="636" y="179" width="11" height="12" fill="#000" />
<rect x="637" y="180" width="9" height="10" fill="#fff" />
<rect x="657" y="181" width="1" height="28" fill="#000" />
<rect x="652" y="189" width="11" height="20" fill="#000" />
<rect x="673" y="228" width="1" height="32" fill="#000" />
<rect x="668" y="233" width="11" height="22" fill="#000" />
<rect x="689" y="226" width="1" height="43" fill="#000" />
<rect x="684" y="231" width="11" height="38" fill="#000" />
<rect x="685" y="232" width="9" height="36" fill="#fff" />
<rect x="705" y="183" width="1" height="25" fill="#000" />
<rect x="700" y="191" width="11" height="14" fill="#000" />
<rect x="701" y="192" width="9" height="12" fill="#fff" />
<rect x="721" y="185" width="1" height="25" fill="#000" />
<rect x="716" y="190" width="11" height="10" fill="#000" />
<rect x="737" y="186" width="1" height="27" fill="#000" />
<rect x="732" y="192" width="11" height="3" fill="#000" />
<rect x="733" y="193" width="9" height="1" fill="#fff" />
<rect x="753" y="158" width="1" height="41" fill="#000" />
<rect x="748" y="177" width="11" height="16" fill="#000" />
<rect x="749" y="178" width="9" height="14" fill="#fff" />
<rect x="769" y="140" width="1" height="37" fill="#000" />
<rect x="764" y="146" width="11" height="24" fill="#000" />
<rect x="765" y="147" width="9" height="22" fill="#fff" />
<rect x="785" y="131" width="1" height="20" fill="#000" />
<rect x="780" y="136" width="11" height="12" fill="#000" />
<rect x="781" y="137" width="9" height="10" fill="#fff" />
<rect x="801" y="139" width="1" height="19" fill="#000" />
<rect x="796" y="145" width="11" height="7" fill="#000" />
<rect x="817" y="137" width="1" height="39" fill="#000" />
<rect x="812" y="151" width="11" height="21" fill="#000" />
<rect x="833" y="156" width="1" height="42" fill="#000" />
<rect x="828" y="161" width="11" height="14" fill="#000" />
<rect x="849" y="212" width="1" height="25" fill="#000" />
<rect x="844" y="227" width="11" height="2" fill="#000" />
<rect x="865" y="205" width="1" height="33" fill="#000" />
<rect x="860" y="209" width="11" height="17" fill="#000" />
<rect x="881" y="199" width="1" height="23" fill="#000" />
<rect x="876" y="209" width="11" height="8" fill="#000" />
<rect x="877" y="210" width="9" height="6" fill="#fff" />
<rect x="897" y="194" width="1" height="29" fill="#000" />
<rect x="892" y="204" width="11" height="17" fill="#000" />
<rect x="893" y="205" width="9" height="15" fill="#fff" />
<rect x="913" y="165" width="1" height="39" fill="#000" />
<rect x="908" y="175" width="11" height="24" fill="#000" />
<rect x="909" y="176" width="9" height="22" fill="#fff" />
<rect x="929" y="118" width="1" height="26" fill="#000" />
<rect x="924" y="127" width="11" height="13" fill="#000" />
<rect x="925" y="128" width="9" height="11" fill="#fff" />
<rect x="945" y="111" width="1" height="17" fill="#000" />
<rect x="940" y="112" width="11" height="5" fill="#000" />
<rect x="941" y="113" width="9" height="3" fill="#fff" />
<rect x="961" y="82" width="1" height="30" fill="#000" />
<rect x="956" y="91" width="11" height="18" fill="#000" />
<rect x="957" y="92" width="9" height="16" fill="#fff" />
<rect x="977" y="78" width="1" height="28" fill="#000" />
<rect x="972" y="86" width="11" height="2" fill="#000" />
<rect x="993" y="67" width="1" height="25" fill="#000" />
<rect x="988" y="73" width="11" height="5" fill="#000" />
<rect x="1009" y="60" width="1" height="22" fill="#000" />
<rect x="1004" y="68" width="11" height="6" fill="#000" />
<rect x="1005" y="69" width="9" height="4" fill="#fff" />
<rect x="1025" y="70" width="1" height="24" fill="#000" />
<rect x="1020" y="76" width="11" height="5" fill="#000" />
<rect x="1021" y="77" width="9" height="3" fill="#fff" />
<rect x="1041" y="67" width="1" height="40" fill="#000" />
<rect x="1036" y="72" width="11" height="33" fill="#000" />
<rect x="1057" y="89" width="1" height="27" fill="#000" />
<rect x="1052" y="92" width="11" height="7" fill="#000" />
<rect x="1053" y="93" width="9" height="5" fill="#fff" />
<rect x="1073" y="56" width="1" height="55" fill="#000" />
<rect x="1068" y="73" width="11" height="32" fill="#000" />
<rect x="1089" y="70" width="1" height="47" fill="#000" />
<rect x="1084" y="76" width="11" height="32" fill="#000" />
<rect x="1085" y="77" width="9" height="30" fill="#fff" />
<rect x="1105" y="68" width="1" height="20" fill="#000" />
<rect x="1100" y="73" width="11" height="1" fill="#000" />
<rect x="1121" y="78" width="1" height="21" fill="#000" />
<rect x="1116" y="84" width="11" height="10" fill="#000" />
<rect x="1137" y="81" width="1" height="32" fill="#000" />
<rect x="1132" y="92" width="11" height="4" fill="#000" />
<rect x="1133" y="93" width="9" height="2" fill="#fff" />
<rect x="1153" y="76" width="1" height="45" fill="#000" />
<rect x="1148" y="81" width="11" height="30" fill="#000" />
<rect x="1169" y="103" width="1" height="33" fill="#000" />
<rect x="1164" y="122" width="11" height="13" fill="#000" />
<rect x="1185" y="136" width="1" height="24" fill="#000" />
<rect x="1180" y="147" width="11" height="13" fill="#000" />
<rect x="1181" y="148" width="9" height="11" fill="#fff" />
<rect x="1201" y="114" width="1" height="29" fill="#000" />
<rect x="1196" y="118" width="11" height="17" fill="#000" />
<rect x="1197" y="119" width="9" height="15" fill="#fff" />
<rect x="1217" y="124" width="1" height="24" fill="#000" />
<rect x="1212" y="126" width="11" height="13" fill="#000" />
<rect x="1233" y="113" width="1" height="33" fill="#000" />
<rect x="1228" y="120" width="11" height="25" fill="#000" />
<rect x="1229" y="121" width="9" height="23" fill="#fff" />
<rect x="1249" y="100" width="1" height="44" fill="#000" />
<rect x="1244" y="100" width="11" height="31" fill="#000" />
<rect x="1245" y="101" width="9" height="29" fill="#fff" />
<rect x="1265" y="155" width="1" height="57" fill="#000" />
<rect x="1260" y="155" width="11" height="31" fill="#000" />
<rect x="1281" y="159" width="1" height="30" fill="#000" />
<rect x="1276" y="172" width="11" height="2" fill="#000" />
<rect x="1297" y="184" width="1" height="35" fill="#000" />
<rect x="1292" y="201" width="11" height="17" fill="#000" />
<rect x="1293" y="202" width="9" height="15" fill="#fff" />
<rect x="1313" y="215" width="1" height="61" fill="#000" />
<rect x="1308" y="218" width="11" height="57" fill="#000" />
<rect x="1329" y="221" width="1" height="62" fill="#000" />
<rect x="1324" y="246" width="11" height="1" fill="#000" />
<rect x="1345" y="283" width="1" height="31" fill="#000" />
<rect x="1340" y="290" width="11" height="22" fill="#000" />
<rect x="1341" y="291" width="9" height="20" fill="#fff" />
<rect x="1361" y="260" width="1" height="33" fill="#000" />
<rect x="1356" y="270" width="11" height="20" fill="#000" />
<rect x="1357" y="271" width="9" height="18" fill="#fff" />
<rect x="1377" y="262" width="1" height="35" fill="#000" />
<rect x="1372" y="268" width="11" height="24" fill="#000" />
<rect x="1373" y="269" width="9" height="22" fill="#fff" />
<rect x="1315" y="272" width="104" height="11" fill="#00ff00" />
<rect x="1393" y="250" width="1" height="58" fill="#000" />
<rect x="1388" y="251" width="11" height="52" fill="#000" />
<rect x="1412" y="30" width="9" height="1" fill="#c0c0c0" />
<rect x="1413" y="31" width="7" height="1" fill="#c0c0c0" />
<rect x="1414" y="32" width="5" height="1" fill="#c0c0c0" />
<rect x="1415" y="33" width="3" height="1" fill="#c0c0c0" />
<rect x="1416" y="34" width="1" height="1" fill="#c0c0c0" />
</g>
<text x="1033" y="315" font-size="32" font-weight="bold" fill="#00ff00" font-family='"Liberation Sans","Noto Serif CJK SC",serif' shape-rendering="auto" style="text-shadow:1px 1px 0 #063"><tspan font-size="30.5" font-weight="600" letter-spacing="1.9" dx="-1.6" dy="0">多空转折点</tspan><tspan dy="0" dx="1.6">27960</tspan></text>
<rect x="1630" y="51" width="2" height="1" fill="#000" />
<text x="1635" y="55" font-size="9.6" letter-spacing="-0.2" fill="#000" >30389.5</text>
<rect x="1630" y="84" width="2" height="1" fill="#000" />
<text x="1635" y="88" font-size="9.6" letter-spacing="-0.2" fill="#000" >30032.5</text>
<rect x="1630" y="117" width="2" height="1" fill="#000" />
<text x="1635" y="121" font-size="9.6" letter-spacing="-0.2" fill="#000" >29686.0</text>
<rect x="1630" y="150" width="2" height="1" fill="#000" />
<text x="1635" y="154" font-size="9.6" letter-spacing="-0.2" fill="#000" >29329.0</text>
<rect x="1630" y="183" width="2" height="1" fill="#000" />
<text x="1635" y="187" font-size="9.6" letter-spacing="-0.2" fill="#000" >28982.5</text>
<rect x="1630" y="216" width="2" height="1" fill="#000" />
<text x="1635" y="220" font-size="9.6" letter-spacing="-0.2" fill="#000" >28626.0</text>
<rect x="1630" y="249" width="2" height="1" fill="#000" />
<text x="1635" y="253" font-size="9.6" letter-spacing="-0.2" fill="#000" >28269.0</text>
<rect x="1630" y="282" width="2" height="1" fill="#000" />
<text x="1635" y="286" font-size="9.6" letter-spacing="-0.2" fill="#000" >27932.5</text>
<rect x="1630" y="315" width="2" height="1" fill="#000" />
<text x="1635" y="319" font-size="9.6" letter-spacing="-0.2" fill="#000" >27586.0</text>
<rect x="1630" y="348" width="2" height="1" fill="#000" />
<text x="1635" y="352" font-size="9.6" letter-spacing="-0.2" fill="#000" >27229.0</text>
<rect x="1630" y="381" width="2" height="1" fill="#000" />
<text x="1635" y="385" font-size="9.6" letter-spacing="-0.2" fill="#000" >26882.5</text>
<rect x="1630" y="414" width="2" height="1" fill="#000" />
<text x="1635" y="418" font-size="9.6" letter-spacing="-0.2" fill="#000" >26525.5</text>
<rect x="1630" y="447" width="2" height="1" fill="#000" />
<text x="1635" y="451" font-size="9.6" letter-spacing="-0.2" fill="#000" >26179.0</text>
<rect x="1630" y="480" width="2" height="1" fill="#000" />
<text x="1635" y="484" font-size="9.6" letter-spacing="-0.2" fill="#000" >25832.5</text>
<rect x="1630" y="513" width="2" height="1" fill="#000" />
<text x="1635" y="517" font-size="9.6" letter-spacing="-0.2" fill="#000" >25475.5</text>
<rect x="1630" y="546" width="2" height="1" fill="#000" />
<text x="1635" y="550" font-size="9.6" letter-spacing="-0.2" fill="#000" >25129.0</text>
<rect x="1630" y="579" width="2" height="1" fill="#000" />
<text x="1635" y="583" font-size="9.6" letter-spacing="-0.2" fill="#000" >24782.5</text>
<rect x="1631" y="211" width="41" height="11" fill="#ff0000" />
<text x="1635" y="220" font-size="9.6" letter-spacing="-0.2" fill="#fff" >28619.9</text>
<rect x="1631" y="242" width="41" height="11" fill="#ff0000" />
<text x="1635" y="251" font-size="9.6" letter-spacing="-0.2" fill="#fff" >28291.3</text>
<rect x="1631" y="273" width="41" height="11" fill="#32cd32" />
<text x="1635" y="282" font-size="9.6" letter-spacing="-0.2" fill="#fff" >27960.0</text>
<rect x="1631" y="297" width="41" height="11" fill="#000" />
<text x="1635" y="306" font-size="9.6" letter-spacing="-0.2" fill="#fff" >27722.0</text>
<rect x="1631" y="326" width="41" height="11" fill="#0000ff" />
<text x="1635" y="335" font-size="9.6" letter-spacing="-0.2" fill="#fff" >27404.3</text>
<rect x="1631" y="355" width="41" height="11" fill="#0000ff" />
<text x="1635" y="364" font-size="9.6" letter-spacing="-0.2" fill="#fff" >27096.2</text>
<rect x="7" y="36" width="1" height="1" fill="#000" />
<rect x="6" y="37" width="3" height="1" fill="#000" />
<rect x="5" y="38" width="5" height="1" fill="#000" />
<rect x="4" y="39" width="7" height="1" fill="#000" />
<text x="16.5" y="41" font-size="9.6" textLength="49.8" lengthAdjust="spacing" fill="#000" >HK50-,Daily</text>
<text x="73.1" y="41" font-size="9.6" textLength="140.7" lengthAdjust="spacing" fill="#000" >28255.5 28268.0 27668.5 27722.0</text>
<rect x="0" y="685" width="2" height="39" fill="#bbbbbb" />
<rect x="16" y="685" width="2" height="32" fill="#bbbbbb" />
<rect x="32" y="685" width="2" height="26" fill="#bbbbbb" />
<rect x="48" y="685" width="2" height="12" fill="#bbbbbb" />
<rect x="64" y="685" width="2" height="2" fill="#bbbbbb" />
<rect x="80" y="675" width="2" height="10" fill="#bbbbbb" />
<rect x="96" y="672" width="2" height="13" fill="#bbbbbb" />
<rect x="112" y="663" width="2" height="22" fill="#bbbbbb" />
<rect x="128" y="654" width="2" height="31" fill="#bbbbbb" />
<rect x="144" y="650" width="2" height="35" fill="#bbbbbb" />
<rect x="160" y="642" width="2" height="43" fill="#bbbbbb" />
<rect x="176" y="634" width="2" height="51" fill="#bbbbbb" />
<rect x="192" y="632" width="2" height="53" fill="#bbbbbb" />
<rect x="208" y="631" width="2" height="54" fill="#bbbbbb" />
<rect x="224" y="630" width="2" height="55" fill="#bbbbbb" />
<rect x="240" y="622" width="2" height="63" fill="#bbbbbb" />
<rect x="256" y="617" width="2" height="68" fill="#bbbbbb" />
<rect x="272" y="614" width="2" height="71" fill="#bbbbbb" />
<rect x="288" y="612" width="2" height="73" fill="#bbbbbb" />
<rect x="304" y="604" width="2" height="81" fill="#bbbbbb" />
<rect x="320" y="602" width="2" height="83" fill="#bbbbbb" />
<rect x="336" y="601" width="2" height="84" fill="#bbbbbb" />
<rect x="352" y="601" width="2" height="84" fill="#bbbbbb" />
<rect x="368" y="599" width="2" height="86" fill="#bbbbbb" />
<rect x="384" y="598" width="2" height="87" fill="#bbbbbb" />
<rect x="400" y="594" width="2" height="91" fill="#bbbbbb" />
<rect x="416" y="594" width="2" height="91" fill="#bbbbbb" />
<rect x="432" y="601" width="2" height="84" fill="#bbbbbb" />
<rect x="448" y="601" width="2" height="84" fill="#bbbbbb" />
<rect x="464" y="604" width="2" height="81" fill="#bbbbbb" />
<rect x="480" y="603" width="2" height="82" fill="#bbbbbb" />
<rect x="496" y="601" width="2" height="84" fill="#bbbbbb" />
<rect x="512" y="598" width="2" height="87" fill="#bbbbbb" />
<rect x="528" y="595" width="2" height="90" fill="#bbbbbb" />
<rect x="544" y="596" width="2" height="89" fill="#bbbbbb" />
<rect x="560" y="598" width="2" height="87" fill="#bbbbbb" />
<rect x="576" y="602" width="2" height="83" fill="#bbbbbb" />
<rect x="592" y="605" width="2" height="80" fill="#bbbbbb" />
<rect x="608" y="606" width="2" height="79" fill="#bbbbbb" />
<rect x="624" y="607" width="2" height="78" fill="#bbbbbb" />
<rect x="640" y="607" width="2" height="78" fill="#bbbbbb" />
<rect x="656" y="613" width="2" height="72" fill="#bbbbbb" />
<rect x="672" y="625" width="2" height="60" fill="#bbbbbb" />
<rect x="688" y="631" width="2" height="54" fill="#bbbbbb" />
<rect x="704" y="631" width="2" height="54" fill="#bbbbbb" />
<rect x="720" y="632" width="2" height="53" fill="#bbbbbb" />
<rect x="736" y="633" width="2" height="52" fill="#bbbbbb" />
<rect x="752" y="632" width="2" height="53" fill="#bbbbbb" />
<rect x="768" y="627" width="2" height="58" fill="#bbbbbb" />
<rect x="784" y="623" width="2" height="62" fill="#bbbbbb" />
<rect x="800" y="622" width="2" height="63" fill="#bbbbbb" />
<rect x="816" y="625" width="2" height="60" fill="#bbbbbb" />
<rect x="832" y="629" width="2" height="56" fill="#bbbbbb" />
<rect x="848" y="640" width="2" height="45" fill="#bbbbbb" />
<rect x="864" y="650" width="2" height="35" fill="#bbbbbb" />
<rect x="880" y="655" width="2" height="30" fill="#bbbbbb" />
<rect x="896" y="659" width="2" height="26" fill="#bbbbbb" />
<rect x="912" y="657" width="2" height="28" fill="#bbbbbb" />
<rect x="928" y="649" width="2" height="36" fill="#bbbbbb" />
<rect x="944" y="641" width="2" height="44" fill="#bbbbbb" />
<rect x="960" y="632" width="2" height="53" fill="#bbbbbb" />
<rect x="976" y="625" width="2" height="60" fill="#bbbbbb" />
<rect x="992" y="619" width="2" height="66" fill="#bbbbbb" />
<rect x="1008" y="613" width="2" height="72" fill="#bbbbbb" />
<rect x="1024" y="611" width="2" height="74" fill="#bbbbbb" />
<rect x="1040" y="614" width="2" height="71" fill="#bbbbbb" />
<rect x="1056" y="616" width="2" height="69" fill="#bbbbbb" />
<rect x="1072" y="620" width="2" height="65" fill="#bbbbbb" />
<rect x="1088" y="620" width="2" height="65" fill="#bbbbbb" />
<rect x="1104" y="619" width="2" height="66" fill="#bbbbbb" />
<rect x="1120" y="623" width="2" height="62" fill="#bbbbbb" />
<rect x="1136" y="626" width="2" height="59" fill="#bbbbbb" />
<rect x="1152" y="632" width="2" height="53" fill="#bbbbbb" />
<rect x="1168" y="641" width="2" height="44" fill="#bbbbbb" />
<rect x="1184" y="651" width="2" height="34" fill="#bbbbbb" />
<rect x="1200" y="654" width="2" height="31" fill="#bbbbbb" />
<rect x="1216" y="660" width="2" height="25" fill="#bbbbbb" />
<rect x="1232" y="663" width="2" height="22" fill="#bbbbbb" />
<rect x="1248" y="662" width="2" height="23" fill="#bbbbbb" />
<rect x="1264" y="674" width="2" height="11" fill="#bbbbbb" />
<rect x="1280" y="682" width="2" height="3" fill="#bbbbbb" />
<rect x="1296" y="685" width="2" height="9" fill="#bbbbbb" />
<rect x="1312" y="685" width="2" height="28" fill="#bbbbbb" />
<rect x="1328" y="685" width="2" height="39" fill="#bbbbbb" />
<rect x="1344" y="685" width="2" height="53" fill="#bbbbbb" />
<rect x="1360" y="685" width="2" height="61" fill="#bbbbbb" />
<rect x="1376" y="685" width="2" height="66" fill="#bbbbbb" />
<rect x="1392" y="685" width="2" height="74" fill="#bbbbbb" />
<path d="M433 599.5h3M439 599.5h3M445 599.5h3M451 599.5h3M457 599.5h3M463 599.5h3M469 599.5h3M475 599.5h3M481 599.5h3M487 599.5h3M493 599.5h3M499 599.5h3M505 599.5h3M511 599.5h3M517 599.5h3M523 599.5h3M529 599.5h3M535 599.5h3M541 599.5h3M547 599.5h3M422 600.5h2M427 600.5h3M554 600.5h2M559 600.5h3M565 600.5h3M571 600.5h3M577 600.5h3M583 600.5h3M589 600.5h3M595 600.5h3M601 600.5h3M607 600.5h3M613 600.5h3M415 601.5h3M619 601.5h3M625 601.5h3M631 601.5h3M637 601.5h3M643 601.5h3M409 602.5h3M649 602.5h3M398 603.5h2M403 603.5h3M655 603.5h3M391 604.5h3M661 604.5h3M385 605.5h3M667 605.5h3M379 606.5h3M673 606.5h3M373 607.5h3M368 608.5h2M680 608.5h2M685 609.5h3M361 610.5h3M356 611.5h2M692 611.5h2M697 612.5h3M349 613.5h2M343 614.5h3M704 614.5h2M337 615.5h3M709 615.5h3M331 616.5h3M715 616.5h3M325 617.5h3M721 617.5h3M1105 617.5h3M1111 617.5h3M1117 617.5h3M1123 617.5h3M320 618.5h2M1094 618.5h2M1099 618.5h3M1130 618.5h2M1135 618.5h3M728 619.5h2M1087 619.5h3M1142 619.5h2M1147 619.5h3M313 620.5h3M733 620.5h3M1081 620.5h3M1153 620.5h3M308 621.5h2M1075 621.5h3M740 622.5h2M1069 622.5h3M1160 622.5h2M301 623.5h3M746 623.5h2M1064 623.5h2M1165 623.5h3M296 624.5h2M751 624.5h3M758 625.5h2M763 625.5h3M1057 625.5h3M1172 625.5h2M289 626.5h3M769 626.5h3M775 626.5h3M1177 626.5h3M284 627.5h2M781 627.5h3M787 627.5h3M1051 627.5h2M793 628.5h3M829 628.5h3M835 628.5h3M1046 628.5h2M1184 628.5h2M277 629.5h3M799 629.5h3M805 629.5h3M811 629.5h3M817 629.5h3M823 629.5h3M842 629.5h2M847 629.5h3M1189 629.5h3M272 630.5h2M854 630.5h2M859 630.5h3M1040 630.5h2M865 631.5h3M1196 631.5h2M266 632.5h2M871 632.5h3M1033 632.5h3M1201 632.5h3M878 633.5h2M1028 633.5h2M259 634.5h3M884 634.5h2M1208 634.5h2M889 635.5h3M1022 635.5h2M1213 635.5h3M253 636.5h3M896 637.5h2M1016 637.5h2M1219 637.5h3M247 638.5h3M902 638.5h2M907 638.5h3M913 639.5h3M1226 639.5h2M241 640.5h2M919 640.5h3M1009 640.5h2M925 641.5h2M1003 641.5h3M1232 641.5h2M235 642.5h2M997 642.5h3M230 643.5h2M932 643.5h2M991 643.5h3M1238 643.5h2M938 644.5h2M986 644.5h2M1243 644.5h2M224 645.5h2M943 645.5h3M949 645.5h3M980 645.5h2M955 646.5h3M961 646.5h3M967 646.5h3M973 646.5h3M1249 646.5h2M218 647.5h2M211 649.5h3M1256 649.5h2M206 651.5h2M1262 651.5h2M200 653.5h2M1267 653.5h3M1273 655.5h2M193 656.5h2M188 658.5h2M1280 658.5h2M1285 660.5h2M181 661.5h2M1292 663.5h2M175 664.5h2M1297 665.5h2M1303 668.5h3M164 670.5h2M1310 671.5h2M1315 673.5h2M157 674.5h2M1322 676.5h2M151 677.5h2M1328 679.5h2M145 680.5h2M1333 682.5h2M139 683.5h2M133 686.5h2M1340 687.5h2M127 689.5h2M1345 690.5h2M121 692.5h2M1351 693.5h2M115 695.5h2M1357 696.5h2M110 697.5h2M103 700.5h3M1364 700.5h2M97 703.5h2M92 704.5h2M1370 704.5h2M85 706.5h3M79 707.5h3M1375 707.5h2M74 708.5h2M68 709.5h2M61 711.5h3M1 712.5h3M56 712.5h2M7 713.5h3M13 714.5h3M19 714.5h3M43 714.5h3M49 714.5h3M26 715.5h2M31 715.5h3M37 715.5h3M1388 715.5h2M25.5 714v1M55.5 713v1M67.5 710v1M73.5 709v1M91.5 705v1M99.5 702v1M109.5 698v1M117.5 694v1M123.5 691v1M129.5 688v1M135.5 685v1M141.5 682v1M147.5 679v1M153.5 676v1M159.5 673v1M163.5 671v1M169.5 668v1M170.5 667v1M171.5 666v1M177.5 663v1M183.5 660v1M187.5 659v1M195.5 655v1M199.5 654v1M205.5 652v1M217.5 648v1M223.5 646v1M229.5 644v1M237.5 641v1M243.5 639v1M265.5 633v1M271.5 631v1M283.5 628v1M295.5 625v1M307.5 622v1M319.5 619v1M351.5 612v1M355.5 612v1M367.5 609v1M397.5 604v1M421.5 601v1M553.5 599v1M679.5 607v1M691.5 610v1M703.5 613v1M727.5 618v1M739.5 621v1M745.5 622v1M757.5 624v1M841.5 628v1M853.5 629v1M877.5 632v1M883.5 633v1M895.5 636v1M901.5 637v1M927.5 642v1M931.5 642v1M937.5 643v1M979.5 646v1M985.5 645v1M1011.5 639v1M1015.5 638v1M1021.5 636v1M1027.5 634v1M1039.5 631v1M1045.5 629v1M1053.5 626v1M1063.5 624v1M1093.5 619v1M1129.5 617v1M1141.5 618v1M1159.5 621v1M1171.5 624v1M1183.5 627v1M1195.5 630v1M1207.5 633v1M1225.5 638v1M1231.5 640v1M1237.5 642v1M1245.5 645v1M1251.5 647v1M1255.5 648v1M1261.5 650v1M1275.5 656v1M1279.5 657v1M1287.5 661v1M1291.5 662v1M1299.5 666v1M1309.5 670v1M1317.5 674v1M1321.5 675v1M1327.5 678v1M1335.5 683v1M1339.5 686v1M1347.5 691v1M1353.5 694v1M1359.5 697v1M1363.5 699v1M1369.5 703v1M1377.5 708v1M1381.5 710v1M1382.5 711v1M1383.5 712v1M1387.5 714v1" fill="none" stroke="#ff0000" stroke-width="1" />
<text x="5.6" y="597" font-size="9.6" textLength="133.2" lengthAdjust="spacing" fill="#000" >MACD(12,26,9) -408.18 -190.34</text>
<rect x="1630" y="586" width="1" height="1" fill="#000" />
<text x="1633" y="595" font-size="9.6" letter-spacing="-0.2" fill="#000" >557.32</text>
<rect x="1630" y="685" width="2" height="1" fill="#000" />
<text x="1635" y="689" font-size="9.6" letter-spacing="-0.2" fill="#000" >0.00</text>
<rect x="1630" y="765" width="1" height="1" fill="#000" />
<text x="1633" y="764" font-size="9.6" letter-spacing="-0.2" fill="#000" >-454.16</text>
<line x1="2" x2="1629" y1="802.5" y2="802.5" stroke="#c0c0c0" stroke-width="1" stroke-dasharray="3,3"/>
<rect x="1630" y="802" width="2" height="1" fill="#000" />
<line x1="2" x2="1629" y1="849.5" y2="849.5" stroke="#c0c0c0" stroke-width="1" stroke-dasharray="3,3"/>
<rect x="1630" y="849" width="2" height="1" fill="#000" />
<line x1="2" x2="1629" y1="905.5" y2="905.5" stroke="#c0c0c0" stroke-width="1" stroke-dasharray="3,3"/>
<rect x="1630" y="905" width="2" height="1" fill="#000" />
<path d="M400 815.5h6M1006 815.5h6M397 816.5h3M406 816.5h8M998 816.5h8M1012 816.5h6M394 817.5h3M414 817.5h4M990 817.5h8M1018 817.5h5M304 818.5h3M390 818.5h4M982 818.5h8M1023 818.5h3M302 819.5h2M307 819.5h3M368 819.5h10M387 819.5h3M522 819.5h9M639 819.5h3M970 819.5h12M300 820.5h2M310 820.5h2M364 820.5h4M378 820.5h9M511 820.5h11M531 820.5h3M634 820.5h5M642 820.5h2M960 820.5h10M298 821.5h2M312 821.5h3M360 821.5h4M506 821.5h5M534 821.5h4M628 821.5h6M782 821.5h5M956 821.5h4M1028 821.5h2M295 822.5h3M315 822.5h3M356 822.5h4M500 822.5h6M538 822.5h3M608 822.5h20M774 822.5h8M787 822.5h2M952 822.5h4M293 823.5h2M318 823.5h2M346 823.5h10M494 823.5h6M541 823.5h3M604 823.5h4M646 823.5h2M768 823.5h6M789 823.5h2M948 823.5h4M241 824.5h5M291 824.5h2M320 824.5h26M486 824.5h8M544 824.5h20M600 824.5h4M766 824.5h2M791 824.5h3M943 824.5h5M239 825.5h2M246 825.5h8M282 825.5h9M480 825.5h6M564 825.5h6M596 825.5h4M764 825.5h2M794 825.5h2M938 825.5h5M237 826.5h2M254 826.5h28M449 826.5h2M478 826.5h2M570 826.5h5M586 826.5h10M650 826.5h2M762 826.5h2M796 826.5h2M932 826.5h6M1098 826.5h8M235 827.5h2M447 827.5h2M451 827.5h3M476 827.5h2M575 827.5h11M759 827.5h3M798 827.5h2M929 827.5h3M1088 827.5h10M1106 827.5h2M175 828.5h4M454 828.5h2M474 828.5h2M757 828.5h2M800 828.5h3M927 828.5h2M1036 828.5h2M1086 828.5h2M1108 828.5h2M170 829.5h5M179 829.5h2M232 829.5h2M444 829.5h2M456 829.5h3M471 829.5h3M654 829.5h2M755 829.5h2M803 829.5h2M1055 829.5h4M1084 829.5h2M1110 829.5h2M164 830.5h6M181 830.5h2M230 830.5h2M442 830.5h2M459 830.5h3M469 830.5h2M752 830.5h3M805 830.5h2M924 830.5h2M1050 830.5h5M1059 830.5h3M1082 830.5h2M1112 830.5h2M160 831.5h4M183 831.5h3M228 831.5h2M462 831.5h2M467 831.5h2M748 831.5h4M807 831.5h3M1044 831.5h6M1062 831.5h4M1079 831.5h3M157 832.5h3M186 832.5h2M226 832.5h2M439 832.5h2M464 832.5h3M744 832.5h4M810 832.5h2M1041 832.5h3M1066 832.5h3M1077 832.5h2M1115 832.5h2M126 833.5h6M154 833.5h3M188 833.5h2M222 833.5h4M705 833.5h3M740 833.5h4M812 833.5h2M920 833.5h2M1069 833.5h3M1075 833.5h2M1117 833.5h2M80 834.5h2M118 834.5h8M132 834.5h6M150 834.5h4M190 834.5h2M214 834.5h8M436 834.5h2M703 834.5h2M708 834.5h6M734 834.5h6M814 834.5h2M1072 834.5h3M1119 834.5h2M1130 834.5h9M76 835.5h4M82 835.5h2M113 835.5h5M138 835.5h5M147 835.5h3M192 835.5h22M434 835.5h2M701 835.5h2M714 835.5h5M726 835.5h8M816 835.5h6M917 835.5h2M1121 835.5h9M1139 835.5h2M72 836.5h4M84 836.5h2M111 836.5h2M143 836.5h4M699 836.5h2M719 836.5h7M822 836.5h8M1141 836.5h2M49 837.5h9M68 837.5h4M86 837.5h2M109 837.5h2M830 837.5h4M914 837.5h2M1143 837.5h3M47 838.5h2M58 838.5h10M88 838.5h2M107 838.5h2M696 838.5h2M1146 838.5h2M105 839.5h2M694 839.5h2M911 839.5h2M1148 839.5h2M44 840.5h2M91 840.5h2M103 840.5h2M692 840.5h2M909 840.5h2M1150 840.5h2M1248 840.5h2M93 841.5h2M101 841.5h2M690 841.5h2M907 841.5h2M1152 841.5h2M1246 841.5h2M95 842.5h2M99 842.5h2M1154 842.5h2M1243 842.5h3M40 843.5h2M97 843.5h2M687 843.5h2M904 843.5h2M1156 843.5h2M1240 843.5h3M685 844.5h2M902 844.5h2M1238 844.5h2M37 845.5h2M683 845.5h2M900 845.5h2M1159 845.5h2M1201 845.5h2M1235 845.5h3M681 846.5h2M898 846.5h2M1199 846.5h2M1203 846.5h2M1232 846.5h3M34 847.5h2M679 847.5h2M890 847.5h8M1162 847.5h2M1205 847.5h2M1230 847.5h2M16 848.5h18M677 848.5h2M880 848.5h10M1164 848.5h2M1196 848.5h2M1207 848.5h3M1227 848.5h3M13 849.5h3M675 849.5h2M878 849.5h2M1194 849.5h2M1210 849.5h2M1224 849.5h3M10 850.5h3M673 850.5h2M875 850.5h3M1167 850.5h2M1212 850.5h2M1222 850.5h2M8 851.5h2M872 851.5h3M1169 851.5h3M1191 851.5h2M1214 851.5h2M1219 851.5h3M5 852.5h3M870 852.5h2M1172 852.5h4M1216 852.5h3M2 853.5h3M867 853.5h3M1176 853.5h4M1188 853.5h2M0 854.5h2M849 854.5h18M1180 854.5h4M1186 854.5h2M1184 855.5h2M1280 860.5h3M1276 861.5h4M1283 861.5h3M1272 862.5h4M1286 862.5h2M1268 863.5h4M1288 863.5h3M1265 864.5h3M1291 864.5h3M1294 865.5h2M1296 866.5h2M1299 868.5h2M1329 870.5h2M1327 871.5h2M1331 871.5h2M1370 871.5h9M1304 872.5h2M1325 872.5h2M1333 872.5h2M1360 872.5h10M1379 872.5h3M1323 873.5h2M1335 873.5h3M1357 873.5h3M1382 873.5h4M1338 874.5h2M1354 874.5h3M1386 874.5h3M1320 875.5h2M1340 875.5h2M1350 875.5h4M1389 875.5h3M1318 876.5h2M1342 876.5h2M1347 876.5h3M1310 877.5h2M1316 877.5h2M1344 877.5h3M1314 878.5h2M36.5 846v1M39.5 844v1M42.5 842v1M43.5 841v1M46.5 839v1M90.5 839v1M234.5 828v1M418.5 818v1M419.5 819v1M420.5 820v2M421.5 822v1M422.5 823v1M423.5 824v1M424.5 825v1M425.5 826v2M426.5 828v1M427.5 829v1M428.5 830v1M429.5 831v1M430.5 832v2M431.5 834v1M432.5 835v1M433.5 836v1M438.5 833v1M441.5 831v1M446.5 828v1M644.5 821v1M645.5 822v1M648.5 824v1M649.5 825v1M652.5 827v1M653.5 828v1M656.5 830v1M657.5 831v1M658.5 832v1M659.5 833v1M660.5 834v2M661.5 836v1M662.5 837v1M663.5 838v1M664.5 839v1M665.5 840v2M666.5 842v1M667.5 843v1M668.5 844v1M669.5 845v1M670.5 846v2M671.5 848v1M672.5 849v1M689.5 842v1M698.5 837v1M834.5 838v1M835.5 839v1M836.5 840v1M837.5 841v1M838.5 842v1M839.5 843v1M840.5 844v1M841.5 845v2M842.5 847v1M843.5 848v1M844.5 849v1M845.5 850v1M846.5 851v1M847.5 852v1M848.5 853v1M906.5 842v1M913.5 838v1M916.5 836v1M919.5 834v1M922.5 832v1M923.5 831v1M926.5 829v1M1026.5 819v1M1027.5 820v1M1030.5 822v1M1031.5 823v1M1032.5 824v1M1033.5 825v1M1034.5 826v1M1035.5 827v1M1038.5 829v1M1039.5 830v1M1040.5 831v1M1114.5 831v1M1158.5 844v1M1161.5 846v1M1166.5 849v1M1190.5 852v1M1193.5 850v1M1198.5 847v1M1250.5 841v2M1251.5 843v1M1252.5 844v2M1253.5 846v1M1254.5 847v2M1255.5 849v1M1256.5 850v2M1257.5 852v1M1258.5 853v2M1259.5 855v1M1260.5 856v2M1261.5 858v1M1262.5 859v2M1263.5 861v1M1264.5 862v2M1298.5 867v1M1301.5 869v1M1302.5 870v1M1303.5 871v1M1306.5 873v1M1307.5 874v1M1308.5 875v1M1309.5 876v1M1312.5 878v1M1313.5 879v1M1322.5 874v1M1392.5 876v1" fill="none" stroke="#1e90ff" stroke-width="1" />
<text x="5.6" y="782" font-size="9.6" textLength="67.5" lengthAdjust="spacing" fill="#000" >RSI(14) 32.9700</text>
<text x="1633" y="779.5" font-size="9.6" letter-spacing="-0.2" fill="#000" >100</text>
<text x="1633" y="806" font-size="9.6" letter-spacing="-0.2" fill="#000" >80</text>
<text x="1633" y="853" font-size="9.6" letter-spacing="-0.2" fill="#000" >50</text>
<text x="1633" y="909" font-size="9.6" letter-spacing="-0.2" fill="#000" >15</text>
<text x="1633" y="926" font-size="9.6" letter-spacing="-0.2" fill="#000" >0</text>
<rect x="1630" y="771" width="1" height="1" fill="#000" />
<rect x="1630" y="928" width="1" height="1" fill="#000" />
<rect x="1" y="930" width="1" height="3" fill="#000" />
<text x="0" y="942" font-size="9.6" letter-spacing="-0.2" fill="#000" >4 Jan 2019</text>
<rect x="65" y="930" width="1" height="3" fill="#000" />
<text x="64.5" y="942" font-size="9.6" letter-spacing="-0.2" fill="#000" >10 Jan 2019</text>
<rect x="129" y="930" width="1" height="3" fill="#000" />
<text x="128.5" y="942" font-size="9.6" letter-spacing="-0.2" fill="#000" >16 Jan 2019</text>
<rect x="193" y="930" width="1" height="3" fill="#000" />
<text x="192.5" y="942" font-size="9.6" letter-spacing="-0.2" fill="#000" >22 Jan 2019</text>
<rect x="257" y="930" width="1" height="3" fill="#000" />
<text x="256.5" y="942" font-size="9.6" letter-spacing="-0.2" fill="#000" >28 Jan 2019</text>
<rect x="321" y="930" width="1" height="3" fill="#000" />
<text x="320.5" y="942" font-size="9.6" letter-spacing="-0.2" fill="#000" >1 Feb 2019</text>
<rect x="385" y="930" width="1" height="3" fill="#000" />
<text x="384.5" y="942" font-size="9.6" letter-spacing="-0.2" fill="#000" >12 Feb 2019</text>
<rect x="449" y="930" width="1" height="3" fill="#000" />
<text x="448.5" y="942" font-size="9.6" letter-spacing="-0.2" fill="#000" >18 Feb 2019</text>
<rect x="513" y="930" width="1" height="3" fill="#000" />
<text x="512.5" y="942" font-size="9.6" letter-spacing="-0.2" fill="#000" >22 Feb 2019</text>
<rect x="577" y="930" width="1" height="3" fill="#000" />
<text x="576.5" y="942" font-size="9.6" letter-spacing="-0.2" fill="#000" >28 Feb 2019</text>
<rect x="641" y="930" width="1" height="3" fill="#000" />
<text x="640.5" y="942" font-size="9.6" letter-spacing="-0.2" fill="#000" >6 Mar 2019</text>
<rect x="705" y="930" width="1" height="3" fill="#000" />
<text x="704.5" y="942" font-size="9.6" letter-spacing="-0.2" fill="#000" >12 Mar 2019</text>
<rect x="769" y="930" width="1" height="3" fill="#000" />
<text x="768.5" y="942" font-size="9.6" letter-spacing="-0.2" fill="#000" >18 Mar 2019</text>
<rect x="833" y="930" width="1" height="3" fill="#000" />
<text x="832.5" y="942" font-size="9.6" letter-spacing="-0.2" fill="#000" >22 Mar 2019</text>
<rect x="897" y="930" width="1" height="3" fill="#000" />
<text x="896.5" y="942" font-size="9.6" letter-spacing="-0.2" fill="#000" >28 Mar 2019</text>
<rect x="961" y="930" width="1" height="3" fill="#000" />
<text x="960.5" y="942" font-size="9.6" letter-spacing="-0.2" fill="#000" >3 Apr 2019</text>
<rect x="1025" y="930" width="1" height="3" fill="#000" />
<text x="1024.5" y="942" font-size="9.6" letter-spacing="-0.2" fill="#000" >10 Apr 2019</text>
<rect x="1089" y="930" width="1" height="3" fill="#000" />
<text x="1088.5" y="942" font-size="9.6" letter-spacing="-0.2" fill="#000" >16 Apr 2019</text>
<rect x="1153" y="930" width="1" height="3" fill="#000" />
<text x="1152.5" y="942" font-size="9.6" letter-spacing="-0.2" fill="#000" >24 Apr 2019</text>
<rect x="1217" y="930" width="1" height="3" fill="#000" />
<text x="1216.5" y="942" font-size="9.6" letter-spacing="-0.2" fill="#000" >30 Apr 2019</text>
<rect x="1281" y="930" width="1" height="3" fill="#000" />
<text x="1280.5" y="942" font-size="9.6" letter-spacing="-0.2" fill="#000" >7 May 2019</text>
<rect x="1345" y="930" width="1" height="3" fill="#000" />
<text x="1344.5" y="942" font-size="9.6" letter-spacing="-0.2" fill="#000" >14 May 2019</text>
<rect x="0" y="950" width="1676" height="1" fill="#e3e3e3" />
<rect x="0" y="951" width="1676" height="3" fill="#f0f0f0" />
<rect x="0" y="951" width="1676" height="1" fill="#fafafa" />
<rect x="0" y="952" width="4" height="1" fill="#000" />
<rect x="89" y="952" width="1585" height="1" fill="#000" />
<rect x="90" y="953" width="1583" height="1" fill="#fff" />
<rect x="89" y="953" width="1" height="1" fill="#000" />
<rect x="3" y="953" width="1" height="1" fill="#000" />
<g>
<linearGradient id="gp" gradientUnits="userSpaceOnUse" x1="0" y1="49" x2="0" y2="113"><stop offset="0" stop-color="#fb5555"/><stop offset="0.35" stop-color="#dd2a2a"/><stop offset="1" stop-color="#b20000"/></linearGradient>
<path d="M4 49H56V73H113V113H4Z M171 49H223V113H115V73H171Z" fill="url(#gp)"/>
<path d="M4.5 112.5V49.5H55.5V73" fill="none" stroke="#e03a3a" stroke-width="1"/>
<path d="M171.5 73V49.5H222.5V112.5" fill="none" stroke="#e03a3a" stroke-width="1"/>
<rect x="8" y="72" width="44" height="1" fill="#f59a9a"/>
<rect x="175" y="72" width="44" height="1" fill="#f59a9a"/>
<rect x="58.5" y="49.5" width="110" height="21" fill="#fff" stroke="#a8a8a8"/>
<rect x="59" y="50" width="20" height="20" fill="url(#gbtn)"/>
<rect x="148" y="50" width="20" height="20" fill="url(#gbtn)"/>
<rect x="79" y="50" width="1" height="20" fill="#b4b4b4"/>
<rect x="147" y="50" width="1" height="20" fill="#b4b4b4"/>
<polygon points="66,58 72,58 69,61.5" fill="#000" shape-rendering="auto"/>
<polygon points="155,61.5 161,61.5 158,58" fill="#000" shape-rendering="auto"/>
<text x="144.6" y="64.1" font-size="12" text-anchor="end" fill="#000">1.00</text>
<text x="15.8" y="64.9" font-size="11.5" textLength="26.8" lengthAdjust="spacingAndGlyphs" fill="#fff">SELL</text>
<text x="196" y="64.9" font-size="11.5" text-anchor="middle" fill="#fff">BUY</text>
<text x="20.2" y="103.7" font-size="12.2" font-weight="bold" fill="#fff">27720</text>
<text x="57" y="103.7" font-size="34" textLength="25.5" lengthAdjust="spacingAndGlyphs" fill="#fff">.5</text>
<text x="130" y="103.7" font-size="12.2" font-weight="bold" fill="#fff">27735</text>
<text x="168.2" y="103.7" font-size="34" textLength="25.5" lengthAdjust="spacingAndGlyphs" fill="#fff">.5</text>
</g>
<defs>
<pattern id="chk" width="2" height="2" patternUnits="userSpaceOnUse"><rect width="2" height="2" fill="#fff"/><rect width="1" height="1" fill="#ececec"/><rect x="1" y="1" width="1" height="1" fill="#ececec"/></pattern>
<linearGradient id="gplus" x1="0" y1="0" x2="1" y2="1"><stop offset="0" stop-color="#58f058"/><stop offset="1" stop-color="#10a818"/></linearGradient>
<linearGradient id="ggold" x1="0" y1="0" x2="1" y2="1"><stop offset="0" stop-color="#c89018"/><stop offset="0.45" stop-color="#fbe050"/><stop offset="1" stop-color="#d8a020"/></linearGradient>
<radialGradient id="gclock" cx="0.4" cy="0.3" r="0.8"><stop offset="0" stop-color="#3a9aff"/><stop offset="1" stop-color="#0a48b0"/></radialGradient>
<linearGradient id="gbub" x1="0" y1="0" x2="0" y2="1"><stop offset="0" stop-color="#ffffff"/><stop offset="1" stop-color="#d8d8e4"/></linearGradient>
</defs>
<g shape-rendering="auto">
<path d="M0 5.500H8.500L11.500 8.500V18.500H0" fill="#fcfcfc" stroke="#8c8c8c" stroke-width="1"/>
<path d="M8.500 5.500V8.500H11.500" fill="#dcdcdc" stroke="#8c8c8c" stroke-width="1"/>
<rect x="2" y="7" width="3" height="1.500" fill="#8c8c8c"/><path d="M2 11.500H7M2 13.500H7M2 15.800H5" stroke="#a0a0a0" stroke-width="1"/>
<path d="M8.3 11.3H11.7V15.100000000000001H15.5V18.5H11.7V22.3H8.3V18.5H4.5V15.100000000000001H8.3Z" fill="url(#gplus)" stroke="#0c9014" stroke-width="0.900"/>
<text x="19" y="16" font-size="12" font-family='"Liberation Sans","Noto Sans CJK SC",sans-serif' fill="#000">新订单</text>
<path d="M83 14.200L75.500 21.200L67.200 15L68 13.500L75.500 19.300L82.300 13Z" fill="#f6e6a0" stroke="#a06a0a" stroke-width="0.800"/>
<path d="M72.800 6.200L82.600 13.300L75.500 19.600L67.300 14.300Q70.500 11.500 72.800 6.200Z" fill="url(#ggold)" stroke="#a06a0a" stroke-width="0.800"/>
<path d="M73.500 7.300L81.500 13.200" stroke="#fdf0a0" stroke-width="0.800" opacity="0.800"/>
<path d="M97.500 7L100.500 5.500H108V15H97.500Z" fill="#1a9af8" stroke="#1478d8" stroke-width="0.800"/>
<path d="M97.500 7L100.500 8.500V15H97.500Z" fill="#7cd0ff"/>
<path d="M102 9.500H107M102 11.500H107" stroke="#d8f0ff" stroke-width="1"/>
<path d="M98 20.600C94.300 20.600 94.300 16.300 97.600 16.300C97.800 13.600 101.800 12.600 103.200 15.200C105.200 13.300 108.600 14.600 108.300 17.200C111.600 17 111.600 20.600 108.800 20.600Z" fill="#eef2fa" stroke="#4a6aa8" stroke-width="0.900"/>
<path d="M97 19.500H109" stroke="#c8d4ec" stroke-width="1.200"/>
<circle cx="131" cy="12.800" r="7.600" fill="#eef2f8" fill-opacity="0.600" stroke="#c4d4ec" stroke-width="0.800"/>
<path d="M131 12.800V20.600A7.800 7.800 0 0 0 136.500 7.300Z" fill="#58b858" opacity="0.550"/>
<path d="M127.300 8.600A5.300 5.300 0 0 0 127.800 17.200" fill="none" stroke="#4a7ee0" stroke-width="1.200"/>
<path d="M125.600 6.800A7.800 7.800 0 0 0 126 18.800" fill="none" stroke="#8aaae8" stroke-width="1"/>
<path d="M134.700 8.600A5.300 5.300 0 0 1 136.300 12.800" fill="none" stroke="#7a9ee0" stroke-width="1"/>
<circle cx="131" cy="12.300" r="1.900" fill="#2458c8"/>
<path d="M131.300 13V20.500" stroke="#28a028" stroke-width="1.200"/>
<path d="M152 12L165.500 12L160 20.500L155.500 19Z" fill="#f8d038" stroke="#d09c10" stroke-width="0.800"/>
<ellipse cx="158" cy="10.200" rx="7.800" ry="2.700" fill="#4a9ad8" stroke="#2a70b8" stroke-width="0.800"/>
<path d="M154.200 9.500C154.200 4.600 162 4.600 162 9.500Z" fill="#7cc4f0" stroke="#2a78c0" stroke-width="0.800"/>
<circle cx="162.400" cy="16.700" r="4" fill="#e81818" stroke="#b00000" stroke-width="0.600"/>
<rect x="160.700" y="15" width="3.400" height="3.400" fill="#fff"/>
<text x="171.300" y="16" font-size="12" font-family='"Liberation Sans","Noto Sans CJK SC",sans-serif' fill="#000">自动交易</text>
<rect x="226" y="0" width="1" height="25" fill="#a0a0a0" shape-rendering="crispEdges"/>
<rect x="227" y="0" width="1" height="25" fill="#fff" shape-rendering="crispEdges"/>
<rect x="230" y="3" width="3" height="1" fill="#a0a0a0" shape-rendering="crispEdges"/>
<rect x="230" y="5" width="3" height="1" fill="#a0a0a0" shape-rendering="crispEdges"/>
<rect x="230" y="7" width="3" height="1" fill="#a0a0a0" shape-rendering="crispEdges"/>
<rect x="230" y="9" width="3" height="1" fill="#a0a0a0" shape-rendering="crispEdges"/>
<rect x="230" y="11" width="3" height="1" fill="#a0a0a0" shape-rendering="crispEdges"/>
<rect x="230" y="13" width="3" height="1" fill="#a0a0a0" shape-rendering="crispEdges"/>
<rect x="230" y="15" width="3" height="1" fill="#a0a0a0" shape-rendering="crispEdges"/>
<rect x="230" y="17" width="3" height="1" fill="#a0a0a0" shape-rendering="crispEdges"/>
<rect x="230" y="19" width="3" height="1" fill="#a0a0a0" shape-rendering="crispEdges"/>
<rect x="230" y="21" width="3" height="1" fill="#a0a0a0" shape-rendering="crispEdges"/>
<rect x="244" y="7" width="1" height="14" fill="#505050" shape-rendering="crispEdges"/>
<rect x="243" y="8" width="3" height="1" fill="#505050" shape-rendering="crispEdges"/>
<rect x="242" y="18" width="14" height="1" fill="#505050" shape-rendering="crispEdges"/>
<rect x="254" y="17" width="1" height="3" fill="#505050" shape-rendering="crispEdges"/>
<rect x="250" y="8" width="1" height="9" fill="#0a8a0a" shape-rendering="crispEdges"/>
<rect x="251" y="9" width="2" height="1" fill="#0a8a0a" shape-rendering="crispEdges"/>
<rect x="248" y="15" width="2" height="1" fill="#0a8a0a" shape-rendering="crispEdges"/>
<rect x="264" y="1" width="26" height="23" fill="url(#chk)" shape-rendering="crispEdges"/>
<rect x="264" y="1" width="25" height="1" fill="#a0a0a0" shape-rendering="crispEdges"/>
<rect x="264" y="1" width="1" height="22" fill="#a0a0a0" shape-rendering="crispEdges"/>
<rect x="289" y="1" width="1" height="23" fill="#fff" shape-rendering="crispEdges"/>
<rect x="264" y="23" width="26" height="1" fill="#fff" shape-rendering="crispEdges"/>
<rect x="272" y="7" width="1" height="14" fill="#505050" shape-rendering="crispEdges"/>
<rect x="271" y="8" width="3" height="1" fill="#505050" shape-rendering="crispEdges"/>
<rect x="270" y="18" width="14" height="1" fill="#505050" shape-rendering="crispEdges"/>
<rect x="282" y="17" width="1" height="3" fill="#505050" shape-rendering="crispEdges"/>
<rect x="278" y="5" width="1" height="12" fill="#0a7a0a" shape-rendering="crispEdges"/>
<rect x="276.500" y="7.500" width="4" height="7" fill="#48e048" stroke="#0a8a0a" stroke-width="1" shape-rendering="crispEdges"/>
<rect x="300" y="7" width="1" height="14" fill="#505050" shape-rendering="crispEdges"/>
<rect x="299" y="8" width="3" height="1" fill="#505050" shape-rendering="crispEdges"/>
<rect x="298" y="18" width="14" height="1" fill="#505050" shape-rendering="crispEdges"/>
<rect x="310" y="17" width="1" height="3" fill="#505050" shape-rendering="crispEdges"/>
<path d="M299.500 15.800C302 13 303.500 10.300 305.500 10.300C307.500 10.300 308.500 13.300 311 14.300" stroke="#2a9a2a" stroke-width="1.300" fill="none"/>
<rect x="321" y="2" width="1" height="21" fill="#a0a0a0" shape-rendering="crispEdges"/>
<path d="M340.2 15.400L344.6 19.600" stroke="#a06808" stroke-width="3.600" stroke-linecap="butt"/>
<path d="M340.2 15.400L344.4 19.400" stroke="#f0d030" stroke-width="2.200" stroke-linecap="butt"/>
<circle cx="336" cy="11" r="5.400" fill="#d8f0ff" stroke="#2a72c8" stroke-width="1.300"/>
<path d="M333 11H339" stroke="#3a86b8" stroke-width="1.800"/>
<path d="M336 8V14" stroke="#3a86b8" stroke-width="1.800"/>
<path d="M368.2 15.400L372.6 19.600" stroke="#a06808" stroke-width="3.600" stroke-linecap="butt"/>
<path d="M368.2 15.400L372.4 19.400" stroke="#f0d030" stroke-width="2.200" stroke-linecap="butt"/>
<circle cx="364" cy="11" r="5.400" fill="#d8f0ff" stroke="#2a72c8" stroke-width="1.300"/>
<path d="M361 11H367" stroke="#3a86b8" stroke-width="1.800"/>
<rect x="386" y="5" width="8" height="8" fill="#3a9a1a"/><path d="M387.5 12.5V8.5H392.5V12.5" fill="#fff" stroke="#fff" stroke-width="1"/><rect x="388.5" y="9.5" width="3" height="1" fill="#3a9a1a" opacity="0.500"/>
<rect x="394" y="5" width="8" height="8" fill="#1a50d0"/><path d="M395.5 12.5V8.5H400.5V12.5" fill="#fff" stroke="#fff" stroke-width="1"/><rect x="396.5" y="9.5" width="3" height="1" fill="#1a50d0" opacity="0.500"/>
<rect x="386" y="13" width="8" height="8" fill="#1a50d0"/><path d="M387.5 20.5V16.5H392.5V20.5" fill="#fff" stroke="#fff" stroke-width="1"/><rect x="388.5" y="17.5" width="3" height="1" fill="#1a50d0" opacity="0.500"/>
<rect x="394" y="13" width="8" height="8" fill="#3a9a1a"/><path d="M395.5 20.5V16.5H400.5V20.5" fill="#fff" stroke="#fff" stroke-width="1"/><rect x="396.5" y="17.5" width="3" height="1" fill="#3a9a1a" opacity="0.500"/>
<rect x="411" y="2" width="1" height="21" fill="#a0a0a0" shape-rendering="crispEdges"/>
<rect x="416" y="1" width="26" height="23" fill="url(#chk)" shape-rendering="crispEdges"/>
<rect x="416" y="1" width="25" height="1" fill="#a0a0a0" shape-rendering="crispEdges"/>
<rect x="416" y="1" width="1" height="22" fill="#a0a0a0" shape-rendering="crispEdges"/>
<rect x="441" y="1" width="1" height="23" fill="#fff" shape-rendering="crispEdges"/>
<rect x="416" y="23" width="26" height="1" fill="#fff" shape-rendering="crispEdges"/>
<rect x="424" y="7" width="1" height="14" fill="#505050" shape-rendering="crispEdges"/>
<rect x="423" y="8" width="3" height="1" fill="#505050" shape-rendering="crispEdges"/>
<rect x="422" y="18" width="14" height="1" fill="#505050" shape-rendering="crispEdges"/>
<rect x="434" y="17" width="1" height="3" fill="#505050" shape-rendering="crispEdges"/>
<polygon points="429.500,9.500 429.500,15.800 433,12.600" fill="#68e068" stroke="#0a8a0a" stroke-width="0.900"/>
<rect x="444" y="1" width="26" height="23" fill="url(#chk)" shape-rendering="crispEdges"/>
<rect x="444" y="1" width="25" height="1" fill="#a0a0a0" shape-rendering="crispEdges"/>
<rect x="444" y="1" width="1" height="22" fill="#a0a0a0" shape-rendering="crispEdges"/>
<rect x="469" y="1" width="1" height="23" fill="#fff" shape-rendering="crispEdges"/>
<rect x="444" y="23" width="26" height="1" fill="#fff" shape-rendering="crispEdges"/>
<rect x="452" y="7" width="1" height="14" fill="#505050" shape-rendering="crispEdges"/>
<rect x="451" y="8" width="3" height="1" fill="#505050" shape-rendering="crispEdges"/>
<rect x="450" y="18" width="14" height="1" fill="#505050" shape-rendering="crispEdges"/>
<rect x="462" y="17" width="1" height="3" fill="#505050" shape-rendering="crispEdges"/>
<rect x="458" y="7" width="1" height="10" fill="#1a6aa8" shape-rendering="crispEdges"/>
<path d="M464 12.500H460" stroke="#d84a0a" stroke-width="1.200"/><polygon points="459.200,12.500 462,10.300 462,14.700" fill="#d84a0a"/>
<rect x="473" y="2" width="1" height="21" fill="#a0a0a0" shape-rendering="crispEdges"/>
<path d="M483.500 5.500H491L494.500 9V18.500H483.500Z" fill="#fcfcfc" stroke="#8c8c8c"/><path d="M491 5.500V9H494.500" fill="#e4e4e4" stroke="#8c8c8c"/><text x="485.500" y="15" font-size="9" font-style="italic" font-family="Liberation Serif,serif" fill="#5a5040">f</text>
<path d="M491.0 11H494.4V14.8H498.2V18.2H494.4V22H491.0V18.2H487.2V14.8H491.0Z" fill="url(#gplus)" stroke="#0c9014" stroke-width="0.900"/>
<polygon points="504.8,12 510.3,12 507.55,15" fill="#000"/>
<circle cx="529" cy="13" r="7.700" fill="url(#gclock)"/><circle cx="529" cy="13" r="5.400" fill="#f8fbff"/><path d="M528.500 9.500V13.500H531.500" stroke="#222" stroke-width="1.200" fill="none"/>
<polygon points="543.8,12 549.3,12 546.55,15" fill="#000"/>
<rect x="560.500" y="6.500" width="15" height="13" fill="#fff" stroke="#3a7ac8" stroke-width="1"/><rect x="560" y="6" width="16" height="2.500" fill="#3a7ac8"/><rect x="561" y="13" width="14" height="1" fill="#3a7ac8"/>
<path d="M562.500 12L564 12L566 10.500H568L569.500 11.500H571L573 10.300H574" stroke="#a82808" stroke-width="1.100" fill="none"/><path d="M563 17.500L565 16.800H567.500L570 15.300L571 15.300L573 17.500" stroke="#189028" stroke-width="1.100" fill="none"/>
<polygon points="582.8,12 588.3,12 585.55,15" fill="#000"/>
<rect x="594" y="0" width="1" height="25" fill="#a0a0a0" shape-rendering="crispEdges"/>
<rect x="595" y="0" width="1" height="25" fill="#fff" shape-rendering="crispEdges"/>
<rect x="598" y="3" width="3" height="1" fill="#a0a0a0" shape-rendering="crispEdges"/>
<rect x="598" y="5" width="3" height="1" fill="#a0a0a0" shape-rendering="crispEdges"/>
<rect x="598" y="7" width="3" height="1" fill="#a0a0a0" shape-rendering="crispEdges"/>
<rect x="598" y="9" width="3" height="1" fill="#a0a0a0" shape-rendering="crispEdges"/>
<rect x="598" y="11" width="3" height="1" fill="#a0a0a0" shape-rendering="crispEdges"/>
<rect x="598" y="13" width="3" height="1" fill="#a0a0a0" shape-rendering="crispEdges"/>
<rect x="598" y="15" width="3" height="1" fill="#a0a0a0" shape-rendering="crispEdges"/>
<rect x="598" y="17" width="3" height="1" fill="#a0a0a0" shape-rendering="crispEdges"/>
<rect x="598" y="19" width="3" height="1" fill="#a0a0a0" shape-rendering="crispEdges"/>
<rect x="598" y="21" width="3" height="1" fill="#a0a0a0" shape-rendering="crispEdges"/>
<rect x="604" y="1" width="26" height="23" fill="url(#chk)" shape-rendering="crispEdges"/>
<rect x="604" y="1" width="25" height="1" fill="#a0a0a0" shape-rendering="crispEdges"/>
<rect x="604" y="1" width="1" height="22" fill="#a0a0a0" shape-rendering="crispEdges"/>
<rect x="629" y="1" width="1" height="23" fill="#fff" shape-rendering="crispEdges"/>
<rect x="604" y="23" width="26" height="1" fill="#fff" shape-rendering="crispEdges"/>
<path d="M612 5.500V17.300L614.800 14.800L617.300 20.300L619.300 19.400L616.900 14H620.300Z" fill="#505050"/>
<rect x="644" y="6" width="1" height="6" fill="#505050" shape-rendering="crispEdges"/>
<rect x="644" y="15" width="1" height="6" fill="#505050" shape-rendering="crispEdges"/>
<rect x="637" y="13" width="6" height="1" fill="#505050" shape-rendering="crispEdges"/>
<rect x="646" y="13" width="7" height="1" fill="#505050" shape-rendering="crispEdges"/>
<rect x="644" y="13" width="1" height="1" fill="#909090" shape-rendering="crispEdges"/>
<rect x="661" y="2" width="1" height="21" fill="#a0a0a0" shape-rendering="crispEdges"/>
<rect x="678" y="7" width="1" height="13" fill="#505050" shape-rendering="crispEdges"/>
<rect x="701" y="13" width="13" height="1" fill="#505050" shape-rendering="crispEdges"/>
<path d="M729 19.700L741 7.500" stroke="#505050" stroke-width="1.100"/>
<path d="M754.500 14.500L764 6.500M759 19.500L769 11M757.500 12L758.500 19M760.500 10L761.500 17.500M763.500 7.500L764.500 15M766.500 5.500L767.500 12.500" stroke="#505050" stroke-width="1" fill="none"/><text x="765.600" y="21.500" font-size="6.500" font-weight="bold" fill="#404040">E</text>
<rect x="784" y="6" width="1" height="1" fill="#505050" shape-rendering="crispEdges"/>
<rect x="786" y="6" width="1" height="1" fill="#505050" shape-rendering="crispEdges"/>
<rect x="788" y="6" width="1" height="1" fill="#505050" shape-rendering="crispEdges"/>
<rect x="790" y="6" width="1" height="1" fill="#505050" shape-rendering="crispEdges"/>
<rect x="792" y="6" width="1" height="1" fill="#505050" shape-rendering="crispEdges"/>
<rect x="794" y="6" width="1" height="1" fill="#505050" shape-rendering="crispEdges"/>
<rect x="796" y="6" width="1" height="1" fill="#505050" shape-rendering="crispEdges"/>
<rect x="784" y="9" width="1" height="1" fill="#505050" shape-rendering="crispEdges"/>
<rect x="786" y="9" width="1" height="1" fill="#505050" shape-rendering="crispEdges"/>
<rect x="788" y="9" width="1" height="1" fill="#505050" shape-rendering="crispEdges"/>
<rect x="790" y="9" width="1" height="1" fill="#505050" shape-rendering="crispEdges"/>
<rect x="792" y="9" width="1" height="1" fill="#505050" shape-rendering="crispEdges"/>
<rect x="794" y="9" width="1" height="1" fill="#505050" shape-rendering="crispEdges"/>
<rect x="796" y="9" width="1" height="1" fill="#505050" shape-rendering="crispEdges"/>
<rect x="784" y="13" width="1" height="1" fill="#505050" shape-rendering="crispEdges"/>
<rect x="786" y="13" width="1" height="1" fill="#505050" shape-rendering="crispEdges"/>
<rect x="788" y="13" width="1" height="1" fill="#505050" shape-rendering="crispEdges"/>
<rect x="790" y="13" width="1" height="1" fill="#505050" shape-rendering="crispEdges"/>
<rect x="792" y="13" width="1" height="1" fill="#505050" shape-rendering="crispEdges"/>
<rect x="794" y="13" width="1" height="1" fill="#505050" shape-rendering="crispEdges"/>
<rect x="796" y="13" width="1" height="1" fill="#505050" shape-rendering="crispEdges"/>
<rect x="784" y="17" width="1" height="1" fill="#505050" shape-rendering="crispEdges"/>
<rect x="786" y="17" width="1" height="1" fill="#505050" shape-rendering="crispEdges"/>
<rect x="788" y="17" width="1" height="1" fill="#505050" shape-rendering="crispEdges"/>
<rect x="790" y="17" width="1" height="1" fill="#505050" shape-rendering="crispEdges"/>
<rect x="792" y="17" width="1" height="1" fill="#505050" shape-rendering="crispEdges"/>
<text x="793.600" y="21.500" font-size="6.500" font-weight="bold" fill="#404040">F</text>
<text x="814.300" y="18" font-size="12.500" fill="#606060">A</text>
<rect x="841" y="7" width="1" height="1" fill="#505050" shape-rendering="crispEdges"/>
<rect x="841" y="19" width="1" height="1" fill="#505050" shape-rendering="crispEdges"/>
<rect x="841" y="7" width="1" height="1" fill="#505050" shape-rendering="crispEdges"/>
<rect x="853" y="7" width="1" height="1" fill="#505050" shape-rendering="crispEdges"/>
<rect x="843" y="7" width="1" height="1" fill="#505050" shape-rendering="crispEdges"/>
<rect x="843" y="19" width="1" height="1" fill="#505050" shape-rendering="crispEdges"/>
<rect x="841" y="9" width="1" height="1" fill="#505050" shape-rendering="crispEdges"/>
<rect x="853" y="9" width="1" height="1" fill="#505050" shape-rendering="crispEdges"/>
<rect x="845" y="7" width="1" height="1" fill="#505050" shape-rendering="crispEdges"/>
<rect x="845" y="19" width="1" height="1" fill="#505050" shape-rendering="crispEdges"/>
<rect x="841" y="11" width="1" height="1" fill="#505050" shape-rendering="crispEdges"/>
<rect x="853" y="11" width="1" height="1" fill="#505050" shape-rendering="crispEdges"/>
<rect x="847" y="7" width="1" height="1" fill="#505050" shape-rendering="crispEdges"/>
<rect x="847" y="19" width="1" height="1" fill="#505050" shape-rendering="crispEdges"/>
<rect x="841" y="13" width="1" height="1" fill="#505050" shape-rendering="crispEdges"/>
<rect x="853" y="13" width="1" height="1" fill="#505050" shape-rendering="crispEdges"/>
<rect x="849" y="7" width="1" height="1" fill="#505050" shape-rendering="crispEdges"/>
<rect x="849" y="19" width="1" height="1" fill="#505050" shape-rendering="crispEdges"/>
<rect x="841" y="15" width="1" height="1" fill="#505050" shape-rendering="crispEdges"/>
<rect x="853" y="15" width="1" height="1" fill="#505050" shape-rendering="crispEdges"/>
<rect x="851" y="7" width="1" height="1" fill="#505050" shape-rendering="crispEdges"/>
<rect x="851" y="19" width="1" height="1" fill="#505050" shape-rendering="crispEdges"/>
<rect x="841" y="17" width="1" height="1" fill="#505050" shape-rendering="crispEdges"/>
<rect x="853" y="17" width="1" height="1" fill="#505050" shape-rendering="crispEdges"/>
<rect x="853" y="7" width="1" height="1" fill="#505050" shape-rendering="crispEdges"/>
<rect x="853" y="19" width="1" height="1" fill="#505050" shape-rendering="crispEdges"/>
<rect x="841" y="19" width="1" height="1" fill="#505050" shape-rendering="crispEdges"/>
<rect x="853" y="19" width="1" height="1" fill="#505050" shape-rendering="crispEdges"/>
<rect x="840" y="6" width="2" height="1" fill="#505050" shape-rendering="crispEdges"/>
<text x="842.700" y="18" font-size="11" fill="#505050" font-weight="bold">T</text>
<polygon points="871.500,6.800 875,10 873,10 873,11.500 870,11.500 870,10 868,10" fill="#505050"/><path d="M870 14L872.500 16.500L877 11" stroke="#505050" stroke-width="1.300" fill="none"/><polygon points="878.500,19.700 882,16.500 880,16.500 880,15 877,15 877,16.500 875,16.500" fill="#505050"/>
<polygon points="888.7,12 894.2,12 891.45,15" fill="#000"/>
<rect x="900" y="0" width="1" height="25" fill="#a0a0a0" shape-rendering="crispEdges"/>
<rect x="901" y="0" width="1" height="25" fill="#fff" shape-rendering="crispEdges"/>
<rect x="904" y="3" width="3" height="1" fill="#a0a0a0" shape-rendering="crispEdges"/>
<rect x="904" y="5" width="3" height="1" fill="#a0a0a0" shape-rendering="crispEdges"/>
<rect x="904" y="7" width="3" height="1" fill="#a0a0a0" shape-rendering="crispEdges"/>
<rect x="904" y="9" width="3" height="1" fill="#a0a0a0" shape-rendering="crispEdges"/>
<rect x="904" y="11" width="3" height="1" fill="#a0a0a0" shape-rendering="crispEdges"/>
<rect x="904" y="13" width="3" height="1" fill="#a0a0a0" shape-rendering="crispEdges"/>
<rect x="904" y="15" width="3" height="1" fill="#a0a0a0" shape-rendering="crispEdges"/>
<rect x="904" y="17" width="3" height="1" fill="#a0a0a0" shape-rendering="crispEdges"/>
<rect x="904" y="19" width="3" height="1" fill="#a0a0a0" shape-rendering="crispEdges"/>
<rect x="904" y="21" width="3" height="1" fill="#a0a0a0" shape-rendering="crispEdges"/>
<rect x="1078" y="1" width="26" height="23" fill="url(#chk)" shape-rendering="crispEdges"/>
<rect x="1078" y="1" width="25" height="1" fill="#a0a0a0" shape-rendering="crispEdges"/>
<rect x="1078" y="1" width="1" height="22" fill="#a0a0a0" shape-rendering="crispEdges"/>
<rect x="1103" y="1" width="1" height="23" fill="#fff" shape-rendering="crispEdges"/>
<rect x="1078" y="23" width="26" height="1" fill="#fff" shape-rendering="crispEdges"/>
<text x="915.5" y="17" font-size="9.600" letter-spacing="-0.2" fill="#404040">M1</text>
<text x="943.5" y="17" font-size="9.600" letter-spacing="-0.2" fill="#404040">M5</text>
<text x="969.5" y="17" font-size="9.600" letter-spacing="-0.2" fill="#404040">M15</text>
<text x="997.8" y="17" font-size="9.600" letter-spacing="-0.2" fill="#404040">M30</text>
<text x="1029" y="17" font-size="9.600" letter-spacing="-0.2" fill="#404040">H1</text>
<text x="1055.8" y="17" font-size="9.600" letter-spacing="-0.2" fill="#404040">H4</text>
<text x="1084.8" y="17" font-size="9.600" letter-spacing="-0.2" fill="#404040">D1</text>
<text x="1112" y="17" font-size="9.600" letter-spacing="-0.2" fill="#404040">W1</text>
<text x="1139" y="17" font-size="9.600" letter-spacing="-0.2" fill="#404040">MN</text>
<rect x="1161" y="0" width="1" height="25" fill="#a0a0a0" shape-rendering="crispEdges"/>
<rect x="1162" y="0" width="1" height="25" fill="#fff" shape-rendering="crispEdges"/>
<path d="M1628.500 13.600L1624.300 17.700" stroke="#1a4ad0" stroke-width="2.600" stroke-linecap="round"/><circle cx="1631.500" cy="10.300" r="4.100" fill="#f8f8ff" stroke="#2a5ae0" stroke-width="1.400"/>
<path d="M1666 14L1667.300 16.800L1668.500 14" fill="#e8e8f0" stroke="#707070" stroke-width="0.800"/><ellipse cx="1664.200" cy="10" rx="6.600" ry="4.700" fill="url(#gbub)" stroke="#909090" stroke-width="0.900"/>
<path d="M1652.800 16.500L1652.600 19.600L1655 17.300" fill="#e8e8f0" stroke="#707070" stroke-width="0.800"/><ellipse cx="1655.300" cy="13.800" rx="5" ry="3.800" fill="url(#gbub)" stroke="#909090" stroke-width="0.900"/>
</g>
</svg>
</body></html>
